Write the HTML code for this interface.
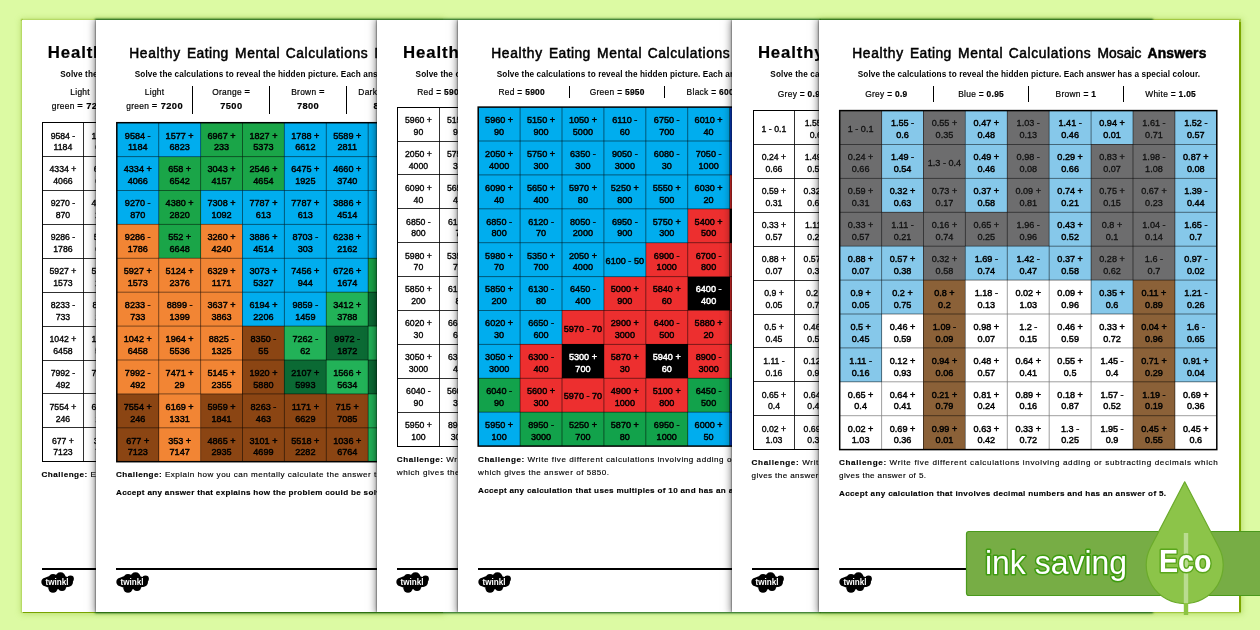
<!DOCTYPE html>
<html lang="en"><head><meta charset="utf-8"><title>Healthy Eating Mental Calculations Mosaic</title>
<style>
html,body{margin:0;padding:0}
body{width:1260px;height:630px;overflow:hidden;position:relative;background:#dcfaa3;font-family:"Liberation Sans",sans-serif;color:#000}
.u1,.u2,.u3{position:absolute;top:19.5px;height:592.5px;background:#fff}
.u1{left:21.5px;width:420px;box-shadow:0 0 1.5px 1.2px #78a300,0 0 6px 1.5px rgba(140,185,40,.4)}
.u3{left:819px;width:420px;box-shadow:.6px 0 1px 1px #7ca600,1.5px 0 6px 1.5px rgba(140,185,40,.45)}
.u2{left:96px;width:1056px;box-shadow:0 0 2px 1px #0d5a16,0 0 5px 1px rgba(110,160,40,.35)}
.clip{position:absolute;left:21.5px;top:19.5px;width:1217.5px;height:592.5px;overflow:hidden}
.pg{position:absolute;top:0;width:420px;height:592.5px;background:#fff;box-shadow:0 0 2px 0 rgba(0,0,0,.8),0 0 8px 1.5px rgba(0,0,0,.5);overflow:hidden}
.ttl{position:absolute;left:0;width:420px;height:20px;line-height:18px;white-space:pre;-webkit-text-stroke:.5px #000}
.ttl span,.ttl b{position:absolute;top:0}
.ttl.wk{font-weight:700;-webkit-text-stroke:.2px #000}
.sub{position:absolute;left:0;top:50px;width:420px;text-align:center;font-size:8.2px;line-height:10px;white-space:nowrap;letter-spacing:.12px;font-weight:700}
.key{position:absolute;font-size:8.4px}
.ke{position:absolute;top:0;text-align:center;white-space:nowrap;letter-spacing:.3px;-webkit-text-stroke:.2px #000}
.k2 .ke{line-height:14.8px;top:-1px}
.k1 .ke{line-height:12px;top:2.5px}
.ka .ke{top:.2px}
.k2 b{font-size:9.3px;letter-spacing:.4px}
.sep{position:absolute;top:0;width:1.1px;height:100%;background:#000}
.grid{position:absolute;background:#fff}
.gl{position:absolute}
.c{position:absolute;width:41.9px;height:33.9px;text-align:center;font-size:9.1px;line-height:12px;font-weight:400;-webkit-text-stroke:.45px #000;white-space:nowrap}
.c span{position:absolute;left:0;width:100%}
.l1{top:6.9px}.l2{top:18.7px}.l0{top:12.2px}
.c.wt{color:#fff;-webkit-text-stroke-color:#fff}
.wk .c{font-size:8.7px;-webkit-text-stroke:.35px #000}
.c.gt{color:#111;-webkit-text-stroke:.3px #111}
.ch{position:absolute;left:20px;width:379px;font-size:8.1px;line-height:10px;white-space:nowrap;letter-spacing:.3px;-webkit-text-stroke:.15px #000}
.ch.j{text-align:justify;text-align-last:justify;white-space:normal;letter-spacing:0}
.ch.b{font-weight:700}
.fl{position:absolute;left:20px;top:548.2px;width:380px;height:1.9px;background:#000}
.tw{position:absolute;left:19.5px;top:552px}
.eco{position:absolute;z-index:50}
</style></head><body>
<div class="u1"></div><div class="u3"></div><div class="u2"></div>
<div class="clip">
<div class="pg" style="left:0.0px;z-index:1">
<div class="ttl wk" style="top:24.8px;font-size:16.75px;"><b style="left:26.3px;letter-spacing:0.87px">Healthy </b><b style="left:98.0px;letter-spacing:0.36px">Eating </b><b style="left:159.0px;letter-spacing:0.79px">Mental </b><b style="left:224.0px;letter-spacing:0.58px">Calculations </b><b style="left:338.0px;letter-spacing:-0.16px">Mosaic</b></div>
<div class="sub">Solve the calculations to reveal the hidden picture. Each answer has a special colour.</div>
<div class="key k2" style="left:20.3px;top:66px;height:28px">
<div class="ke" style="left:0.0px;width:76.7px">Light<br>green <b>= 7200</b></div>
<div class="ke" style="left:76.7px;width:76.7px">Orange <b>=</b><br><b>7500</b></div>
<div class="sep" style="left:76.0px"></div>
<div class="ke" style="left:153.4px;width:76.7px">Brown <b>=</b><br><b>7800</b></div>
<div class="sep" style="left:152.70000000000002px"></div>
<div class="ke" style="left:230.10000000000002px;width:76.7px">Dark green <b>=</b><br><b>8100</b></div>
<div class="sep" style="left:229.40000000000003px"></div>
<div class="ke" style="left:306.8px;width:76.7px">Blue <b>=</b><br><b>8400</b></div>
<div class="sep" style="left:306.1px"></div>
</div>
<div class="grid wk" style="left:20.5px;top:103.2px;width:293.3px;height:339.0px">
<div class="c" style="left:0.0px;top:0.0px;"><span class="l1">9584 - </span><span class="l2">1184</span></div>
<div class="c" style="left:41.9px;top:0.0px;"><span class="l1">1577 + </span><span class="l2">6823</span></div>
<div class="c" style="left:83.8px;top:0.0px;"><span class="l1">6967 + </span><span class="l2">233</span></div>
<div class="c" style="left:125.7px;top:0.0px;"><span class="l1">1827 + </span><span class="l2">5373</span></div>
<div class="c" style="left:167.6px;top:0.0px;"><span class="l1">1788 + </span><span class="l2">6612</span></div>
<div class="c" style="left:209.5px;top:0.0px;"><span class="l1">5589 + </span><span class="l2">2811</span></div>
<div class="c" style="left:251.4px;top:0.0px;"></div>
<div class="c" style="left:0.0px;top:33.9px;"><span class="l1">4334 + </span><span class="l2">4066</span></div>
<div class="c" style="left:41.9px;top:33.9px;"><span class="l1">658 + </span><span class="l2">6542</span></div>
<div class="c" style="left:83.8px;top:33.9px;"><span class="l1">3043 + </span><span class="l2">4157</span></div>
<div class="c" style="left:125.7px;top:33.9px;"><span class="l1">2546 + </span><span class="l2">4654</span></div>
<div class="c" style="left:167.6px;top:33.9px;"><span class="l1">6475 + </span><span class="l2">1925</span></div>
<div class="c" style="left:209.5px;top:33.9px;"><span class="l1">4660 + </span><span class="l2">3740</span></div>
<div class="c" style="left:251.4px;top:33.9px;"></div>
<div class="c" style="left:0.0px;top:67.8px;"><span class="l1">9270 - </span><span class="l2">870</span></div>
<div class="c" style="left:41.9px;top:67.8px;"><span class="l1">4380 + </span><span class="l2">2820</span></div>
<div class="c" style="left:83.8px;top:67.8px;"><span class="l1">7308 + </span><span class="l2">1092</span></div>
<div class="c" style="left:125.7px;top:67.8px;"><span class="l1">7787 + </span><span class="l2">613</span></div>
<div class="c" style="left:167.6px;top:67.8px;"><span class="l1">7787 + </span><span class="l2">613</span></div>
<div class="c" style="left:209.5px;top:67.8px;"><span class="l1">3886 + </span><span class="l2">4514</span></div>
<div class="c" style="left:251.4px;top:67.8px;"></div>
<div class="c" style="left:0.0px;top:101.7px;"><span class="l1">9286 - </span><span class="l2">1786</span></div>
<div class="c" style="left:41.9px;top:101.7px;"><span class="l1">552 + </span><span class="l2">6648</span></div>
<div class="c" style="left:83.8px;top:101.7px;"><span class="l1">3260 + </span><span class="l2">4240</span></div>
<div class="c" style="left:125.7px;top:101.7px;"><span class="l1">3886 + </span><span class="l2">4514</span></div>
<div class="c" style="left:167.6px;top:101.7px;"><span class="l1">8703 - </span><span class="l2">303</span></div>
<div class="c" style="left:209.5px;top:101.7px;"><span class="l1">6238 + </span><span class="l2">2162</span></div>
<div class="c" style="left:251.4px;top:101.7px;"></div>
<div class="c" style="left:0.0px;top:135.6px;"><span class="l1">5927 + </span><span class="l2">1573</span></div>
<div class="c" style="left:41.9px;top:135.6px;"><span class="l1">5124 + </span><span class="l2">2376</span></div>
<div class="c" style="left:83.8px;top:135.6px;"><span class="l1">6329 + </span><span class="l2">1171</span></div>
<div class="c" style="left:125.7px;top:135.6px;"><span class="l1">3073 + </span><span class="l2">5327</span></div>
<div class="c" style="left:167.6px;top:135.6px;"><span class="l1">7456 + </span><span class="l2">944</span></div>
<div class="c" style="left:209.5px;top:135.6px;"><span class="l1">6726 + </span><span class="l2">1674</span></div>
<div class="c" style="left:251.4px;top:135.6px;"></div>
<div class="c" style="left:0.0px;top:169.5px;"><span class="l1">8233 - </span><span class="l2">733</span></div>
<div class="c" style="left:41.9px;top:169.5px;"><span class="l1">8899 - </span><span class="l2">1399</span></div>
<div class="c" style="left:83.8px;top:169.5px;"><span class="l1">3637 + </span><span class="l2">3863</span></div>
<div class="c" style="left:125.7px;top:169.5px;"><span class="l1">6194 + </span><span class="l2">2206</span></div>
<div class="c" style="left:167.6px;top:169.5px;"><span class="l1">9859 - </span><span class="l2">1459</span></div>
<div class="c" style="left:209.5px;top:169.5px;"><span class="l1">3412 + </span><span class="l2">3788</span></div>
<div class="c" style="left:251.4px;top:169.5px;"></div>
<div class="c" style="left:0.0px;top:203.4px;"><span class="l1">1042 + </span><span class="l2">6458</span></div>
<div class="c" style="left:41.9px;top:203.4px;"><span class="l1">1964 + </span><span class="l2">5536</span></div>
<div class="c" style="left:83.8px;top:203.4px;"><span class="l1">8825 - </span><span class="l2">1325</span></div>
<div class="c" style="left:125.7px;top:203.4px;"><span class="l1">8350 - </span><span class="l2">55</span></div>
<div class="c" style="left:167.6px;top:203.4px;"><span class="l1">7262 - </span><span class="l2">62</span></div>
<div class="c" style="left:209.5px;top:203.4px;"><span class="l1">9972 - </span><span class="l2">1872</span></div>
<div class="c" style="left:251.4px;top:203.4px;"></div>
<div class="c" style="left:0.0px;top:237.3px;"><span class="l1">7992 - </span><span class="l2">492</span></div>
<div class="c" style="left:41.9px;top:237.3px;"><span class="l1">7471 + </span><span class="l2">29</span></div>
<div class="c" style="left:83.8px;top:237.3px;"><span class="l1">5145 + </span><span class="l2">2355</span></div>
<div class="c" style="left:125.7px;top:237.3px;"><span class="l1">1920 + </span><span class="l2">5880</span></div>
<div class="c" style="left:167.6px;top:237.3px;"><span class="l1">2107 + </span><span class="l2">5993</span></div>
<div class="c" style="left:209.5px;top:237.3px;"><span class="l1">1566 + </span><span class="l2">5634</span></div>
<div class="c" style="left:251.4px;top:237.3px;"></div>
<div class="c" style="left:0.0px;top:271.2px;"><span class="l1">7554 + </span><span class="l2">246</span></div>
<div class="c" style="left:41.9px;top:271.2px;"><span class="l1">6169 + </span><span class="l2">1331</span></div>
<div class="c" style="left:83.8px;top:271.2px;"><span class="l1">5959 + </span><span class="l2">1841</span></div>
<div class="c" style="left:125.7px;top:271.2px;"><span class="l1">8263 - </span><span class="l2">463</span></div>
<div class="c" style="left:167.6px;top:271.2px;"><span class="l1">1171 + </span><span class="l2">6629</span></div>
<div class="c" style="left:209.5px;top:271.2px;"><span class="l1">715 + </span><span class="l2">7085</span></div>
<div class="c" style="left:251.4px;top:271.2px;"></div>
<div class="c" style="left:0.0px;top:305.1px;"><span class="l1">677 + </span><span class="l2">7123</span></div>
<div class="c" style="left:41.9px;top:305.1px;"><span class="l1">353 + </span><span class="l2">7147</span></div>
<div class="c" style="left:83.8px;top:305.1px;"><span class="l1">4865 + </span><span class="l2">2935</span></div>
<div class="c" style="left:125.7px;top:305.1px;"><span class="l1">3101 + </span><span class="l2">4699</span></div>
<div class="c" style="left:167.6px;top:305.1px;"><span class="l1">5518 + </span><span class="l2">2282</span></div>
<div class="c" style="left:209.5px;top:305.1px;"><span class="l1">1036 + </span><span class="l2">6764</span></div>
<div class="c" style="left:251.4px;top:305.1px;"></div>
<svg class="gl" shape-rendering="crispEdges" style="left:-2.00px;top:-2.70px" width="300" height="345" viewBox="-2.00 -2.70 300 345"><path d="M41.9 0.0V33.9M41.9 33.9V67.8M41.9 67.8V101.7M41.9 101.7V135.6M41.9 135.6V169.5M41.9 169.5V203.4M41.9 203.4V237.3M41.9 237.3V271.2M41.9 271.2V305.1M41.9 305.1V339.0M83.8 0.0V33.9M83.8 33.9V67.8M83.8 67.8V101.7M83.8 101.7V135.6M83.8 135.6V169.5M83.8 169.5V203.4M83.8 203.4V237.3M83.8 237.3V271.2M83.8 271.2V305.1M83.8 305.1V339.0M125.7 0.0V33.9M125.7 33.9V67.8M125.7 67.8V101.7M125.7 101.7V135.6M125.7 135.6V169.5M125.7 169.5V203.4M125.7 203.4V237.3M125.7 237.3V271.2M125.7 271.2V305.1M125.7 305.1V339.0M167.6 0.0V33.9M167.6 33.9V67.8M167.6 67.8V101.7M167.6 101.7V135.6M167.6 135.6V169.5M167.6 169.5V203.4M167.6 203.4V237.3M167.6 237.3V271.2M167.6 271.2V305.1M167.6 305.1V339.0M209.5 0.0V33.9M209.5 33.9V67.8M209.5 67.8V101.7M209.5 101.7V135.6M209.5 135.6V169.5M209.5 169.5V203.4M209.5 203.4V237.3M209.5 237.3V271.2M209.5 271.2V305.1M209.5 305.1V339.0M251.4 0.0V33.9M251.4 33.9V67.8M251.4 67.8V101.7M251.4 101.7V135.6M251.4 135.6V169.5M251.4 169.5V203.4M251.4 203.4V237.3M251.4 237.3V271.2M251.4 271.2V305.1M251.4 305.1V339.0M0.0 33.9H41.9M41.9 33.9H83.8M83.8 33.9H125.7M125.7 33.9H167.6M167.6 33.9H209.5M209.5 33.9H251.4M251.4 33.9H293.3M0.0 67.8H41.9M41.9 67.8H83.8M83.8 67.8H125.7M125.7 67.8H167.6M167.6 67.8H209.5M209.5 67.8H251.4M251.4 67.8H293.3M0.0 101.7H41.9M41.9 101.7H83.8M83.8 101.7H125.7M125.7 101.7H167.6M167.6 101.7H209.5M209.5 101.7H251.4M251.4 101.7H293.3M0.0 135.6H41.9M41.9 135.6H83.8M83.8 135.6H125.7M125.7 135.6H167.6M167.6 135.6H209.5M209.5 135.6H251.4M251.4 135.6H293.3M0.0 169.5H41.9M41.9 169.5H83.8M83.8 169.5H125.7M125.7 169.5H167.6M167.6 169.5H209.5M209.5 169.5H251.4M251.4 169.5H293.3M0.0 203.4H41.9M41.9 203.4H83.8M83.8 203.4H125.7M125.7 203.4H167.6M167.6 203.4H209.5M209.5 203.4H251.4M251.4 203.4H293.3M0.0 237.3H41.9M41.9 237.3H83.8M83.8 237.3H125.7M125.7 237.3H167.6M167.6 237.3H209.5M209.5 237.3H251.4M251.4 237.3H293.3M0.0 271.2H41.9M41.9 271.2H83.8M83.8 271.2H125.7M125.7 271.2H167.6M167.6 271.2H209.5M209.5 271.2H251.4M251.4 271.2H293.3M0.0 305.1H41.9M41.9 305.1H83.8M83.8 305.1H125.7M125.7 305.1H167.6M167.6 305.1H209.5M209.5 305.1H251.4M251.4 305.1H293.3" stroke="#000" stroke-opacity="0.9" stroke-width="0.9" fill="none"/><rect x="0" y="0" width="293.3" height="339.0" fill="none" stroke="#000" stroke-width="1"/></svg>
</div>
<div class="ch" style="top:450.5px;letter-spacing:0.482px"><b>Challenge:</b> Explain how you can mentally calculate the answer to 4999 + 2501.</div>
<div class="fl"></div>
<svg class="tw" viewBox="0 0 34 22" width="34" height="22"><g fill="#000"><ellipse cx="16" cy="10" rx="14.5" ry="7.2"/><circle cx="4.5" cy="10" r="4.2"/><circle cx="19.5" cy="5.2" r="5"/><circle cx="12" cy="6" r="4"/><circle cx="29.5" cy="6.8" r="3.4"/><circle cx="27" cy="10" r="5"/><circle cx="12" cy="16.2" r="4.6"/><circle cx="21" cy="15" r="4"/></g><text x="16" y="13" font-family="Liberation Sans, sans-serif" font-weight="700" font-size="8.2" fill="#fff" text-anchor="middle" textLength="23" lengthAdjust="spacingAndGlyphs">twinkl</text></svg>
</div>
<div class="pg" style="left:74.5px;z-index:2">
<div class="ttl" style="top:25.7px;font-size:13.8px;"><span style="left:33.2px;letter-spacing:0.68px">Healthy </span><span style="left:90.9px;letter-spacing:0.45px">Eating </span><span style="left:139.1px;letter-spacing:0.62px">Mental </span><span style="left:189.7px;letter-spacing:0.63px">Calculations </span><span style="left:278.4px;letter-spacing:0.06px">Mosaic </span><b style="left:328.5px;letter-spacing:0.23px">Answers</b></div>
<div class="sub">Solve the calculations to reveal the hidden picture. Each answer has a special colour.</div>
<div class="key k2" style="left:20.3px;top:66px;height:28px">
<div class="ke" style="left:0.0px;width:76.7px">Light<br>green <b>= 7200</b></div>
<div class="ke" style="left:76.7px;width:76.7px">Orange <b>=</b><br><b>7500</b></div>
<div class="sep" style="left:76.0px"></div>
<div class="ke" style="left:153.4px;width:76.7px">Brown <b>=</b><br><b>7800</b></div>
<div class="sep" style="left:152.70000000000002px"></div>
<div class="ke" style="left:230.10000000000002px;width:76.7px">Dark green <b>=</b><br><b>8100</b></div>
<div class="sep" style="left:229.40000000000003px"></div>
<div class="ke" style="left:306.8px;width:76.7px">Blue <b>=</b><br><b>8400</b></div>
<div class="sep" style="left:306.1px"></div>
</div>
<div class="grid" style="left:20.8px;top:103.2px;width:293.3px;height:339.0px">
<div class="c" style="left:0.0px;top:0.0px;background:#00adee;"><span class="l1">9584 - </span><span class="l2">1184</span></div>
<div class="c" style="left:41.9px;top:0.0px;background:#00adee;"><span class="l1">1577 + </span><span class="l2">6823</span></div>
<div class="c" style="left:83.8px;top:0.0px;background:#1aa548;"><span class="l1">6967 + </span><span class="l2">233</span></div>
<div class="c" style="left:125.7px;top:0.0px;background:#1aa548;"><span class="l1">1827 + </span><span class="l2">5373</span></div>
<div class="c" style="left:167.6px;top:0.0px;background:#00adee;"><span class="l1">1788 + </span><span class="l2">6612</span></div>
<div class="c" style="left:209.5px;top:0.0px;background:#00adee;"><span class="l1">5589 + </span><span class="l2">2811</span></div>
<div class="c" style="left:251.4px;top:0.0px;background:#00adee;"></div>
<div class="c" style="left:0.0px;top:33.9px;background:#00adee;"><span class="l1">4334 + </span><span class="l2">4066</span></div>
<div class="c" style="left:41.9px;top:33.9px;background:#1aa548;"><span class="l1">658 + </span><span class="l2">6542</span></div>
<div class="c" style="left:83.8px;top:33.9px;background:#1aa548;"><span class="l1">3043 + </span><span class="l2">4157</span></div>
<div class="c" style="left:125.7px;top:33.9px;background:#1aa548;"><span class="l1">2546 + </span><span class="l2">4654</span></div>
<div class="c" style="left:167.6px;top:33.9px;background:#00adee;"><span class="l1">6475 + </span><span class="l2">1925</span></div>
<div class="c" style="left:209.5px;top:33.9px;background:#00adee;"><span class="l1">4660 + </span><span class="l2">3740</span></div>
<div class="c" style="left:251.4px;top:33.9px;background:#00adee;"></div>
<div class="c" style="left:0.0px;top:67.8px;background:#00adee;"><span class="l1">9270 - </span><span class="l2">870</span></div>
<div class="c" style="left:41.9px;top:67.8px;background:#1aa548;"><span class="l1">4380 + </span><span class="l2">2820</span></div>
<div class="c" style="left:83.8px;top:67.8px;background:#00adee;"><span class="l1">7308 + </span><span class="l2">1092</span></div>
<div class="c" style="left:125.7px;top:67.8px;background:#00adee;"><span class="l1">7787 + </span><span class="l2">613</span></div>
<div class="c" style="left:167.6px;top:67.8px;background:#00adee;"><span class="l1">7787 + </span><span class="l2">613</span></div>
<div class="c" style="left:209.5px;top:67.8px;background:#00adee;"><span class="l1">3886 + </span><span class="l2">4514</span></div>
<div class="c" style="left:251.4px;top:67.8px;background:#00adee;"></div>
<div class="c" style="left:0.0px;top:101.7px;background:#f28534;"><span class="l1">9286 - </span><span class="l2">1786</span></div>
<div class="c" style="left:41.9px;top:101.7px;background:#1aa548;"><span class="l1">552 + </span><span class="l2">6648</span></div>
<div class="c" style="left:83.8px;top:101.7px;background:#f28534;"><span class="l1">3260 + </span><span class="l2">4240</span></div>
<div class="c" style="left:125.7px;top:101.7px;background:#00adee;"><span class="l1">3886 + </span><span class="l2">4514</span></div>
<div class="c" style="left:167.6px;top:101.7px;background:#00adee;"><span class="l1">8703 - </span><span class="l2">303</span></div>
<div class="c" style="left:209.5px;top:101.7px;background:#00adee;"><span class="l1">6238 + </span><span class="l2">2162</span></div>
<div class="c" style="left:251.4px;top:101.7px;background:#00adee;"></div>
<div class="c" style="left:0.0px;top:135.6px;background:#f28534;"><span class="l1">5927 + </span><span class="l2">1573</span></div>
<div class="c" style="left:41.9px;top:135.6px;background:#f28534;"><span class="l1">5124 + </span><span class="l2">2376</span></div>
<div class="c" style="left:83.8px;top:135.6px;background:#f28534;"><span class="l1">6329 + </span><span class="l2">1171</span></div>
<div class="c" style="left:125.7px;top:135.6px;background:#00adee;"><span class="l1">3073 + </span><span class="l2">5327</span></div>
<div class="c" style="left:167.6px;top:135.6px;background:#00adee;"><span class="l1">7456 + </span><span class="l2">944</span></div>
<div class="c" style="left:209.5px;top:135.6px;background:#00adee;"><span class="l1">6726 + </span><span class="l2">1674</span></div>
<div class="c" style="left:251.4px;top:135.6px;background:#1aa548;"></div>
<div class="c" style="left:0.0px;top:169.5px;background:#f28534;"><span class="l1">8233 - </span><span class="l2">733</span></div>
<div class="c" style="left:41.9px;top:169.5px;background:#f28534;"><span class="l1">8899 - </span><span class="l2">1399</span></div>
<div class="c" style="left:83.8px;top:169.5px;background:#f28534;"><span class="l1">3637 + </span><span class="l2">3863</span></div>
<div class="c" style="left:125.7px;top:169.5px;background:#00adee;"><span class="l1">6194 + </span><span class="l2">2206</span></div>
<div class="c" style="left:167.6px;top:169.5px;background:#00adee;"><span class="l1">9859 - </span><span class="l2">1459</span></div>
<div class="c" style="left:209.5px;top:169.5px;background:#22b258;"><span class="l1">3412 + </span><span class="l2">3788</span></div>
<div class="c" style="left:251.4px;top:169.5px;background:#0b6a34;"></div>
<div class="c" style="left:0.0px;top:203.4px;background:#f28534;"><span class="l1">1042 + </span><span class="l2">6458</span></div>
<div class="c" style="left:41.9px;top:203.4px;background:#f28534;"><span class="l1">1964 + </span><span class="l2">5536</span></div>
<div class="c" style="left:83.8px;top:203.4px;background:#f28534;"><span class="l1">8825 - </span><span class="l2">1325</span></div>
<div class="c" style="left:125.7px;top:203.4px;background:#8b4513;"><span class="l1">8350 - </span><span class="l2">55</span></div>
<div class="c" style="left:167.6px;top:203.4px;background:#22b258;"><span class="l1">7262 - </span><span class="l2">62</span></div>
<div class="c" style="left:209.5px;top:203.4px;background:#0b6a34;"><span class="l1">9972 - </span><span class="l2">1872</span></div>
<div class="c" style="left:251.4px;top:203.4px;background:#22b258;"></div>
<div class="c" style="left:0.0px;top:237.3px;background:#f28534;"><span class="l1">7992 - </span><span class="l2">492</span></div>
<div class="c" style="left:41.9px;top:237.3px;background:#f28534;"><span class="l1">7471 + </span><span class="l2">29</span></div>
<div class="c" style="left:83.8px;top:237.3px;background:#f28534;"><span class="l1">5145 + </span><span class="l2">2355</span></div>
<div class="c" style="left:125.7px;top:237.3px;background:#8b4513;"><span class="l1">1920 + </span><span class="l2">5880</span></div>
<div class="c" style="left:167.6px;top:237.3px;background:#0b6a34;"><span class="l1">2107 + </span><span class="l2">5993</span></div>
<div class="c" style="left:209.5px;top:237.3px;background:#22b258;"><span class="l1">1566 + </span><span class="l2">5634</span></div>
<div class="c" style="left:251.4px;top:237.3px;background:#0b6a34;"></div>
<div class="c" style="left:0.0px;top:271.2px;background:#8b4513;"><span class="l1">7554 + </span><span class="l2">246</span></div>
<div class="c" style="left:41.9px;top:271.2px;background:#f28534;"><span class="l1">6169 + </span><span class="l2">1331</span></div>
<div class="c" style="left:83.8px;top:271.2px;background:#8b4513;"><span class="l1">5959 + </span><span class="l2">1841</span></div>
<div class="c" style="left:125.7px;top:271.2px;background:#8b4513;"><span class="l1">8263 - </span><span class="l2">463</span></div>
<div class="c" style="left:167.6px;top:271.2px;background:#8b4513;"><span class="l1">1171 + </span><span class="l2">6629</span></div>
<div class="c" style="left:209.5px;top:271.2px;background:#8b4513;"><span class="l1">715 + </span><span class="l2">7085</span></div>
<div class="c" style="left:251.4px;top:271.2px;background:#22b258;"></div>
<div class="c" style="left:0.0px;top:305.1px;background:#8b4513;"><span class="l1">677 + </span><span class="l2">7123</span></div>
<div class="c" style="left:41.9px;top:305.1px;background:#f28534;"><span class="l1">353 + </span><span class="l2">7147</span></div>
<div class="c" style="left:83.8px;top:305.1px;background:#8b4513;"><span class="l1">4865 + </span><span class="l2">2935</span></div>
<div class="c" style="left:125.7px;top:305.1px;background:#8b4513;"><span class="l1">3101 + </span><span class="l2">4699</span></div>
<div class="c" style="left:167.6px;top:305.1px;background:#8b4513;"><span class="l1">5518 + </span><span class="l2">2282</span></div>
<div class="c" style="left:209.5px;top:305.1px;background:#8b4513;"><span class="l1">1036 + </span><span class="l2">6764</span></div>
<div class="c" style="left:251.4px;top:305.1px;background:#22b258;"></div>
<svg class="gl" style="left:-2.80px;top:-2.70px" width="300" height="345" viewBox="-2.80 -2.70 300 345"><path d="M41.9 0.0V33.9M41.9 33.9V67.8M41.9 67.8V101.7M41.9 101.7V135.6M41.9 135.6V169.5M41.9 169.5V203.4M41.9 203.4V237.3M41.9 237.3V271.2M41.9 271.2V305.1M41.9 305.1V339.0M83.8 0.0V33.9M83.8 33.9V67.8M83.8 67.8V101.7M83.8 101.7V135.6M83.8 135.6V169.5M83.8 169.5V203.4M83.8 203.4V237.3M83.8 237.3V271.2M83.8 271.2V305.1M83.8 305.1V339.0M125.7 0.0V33.9M125.7 33.9V67.8M125.7 67.8V101.7M125.7 101.7V135.6M125.7 135.6V169.5M125.7 169.5V203.4M125.7 203.4V237.3M125.7 237.3V271.2M125.7 271.2V305.1M125.7 305.1V339.0M167.6 0.0V33.9M167.6 33.9V67.8M167.6 67.8V101.7M167.6 101.7V135.6M167.6 135.6V169.5M167.6 169.5V203.4M167.6 203.4V237.3M167.6 237.3V271.2M167.6 271.2V305.1M167.6 305.1V339.0M209.5 0.0V33.9M209.5 33.9V67.8M209.5 67.8V101.7M209.5 101.7V135.6M209.5 135.6V169.5M209.5 169.5V203.4M209.5 203.4V237.3M209.5 237.3V271.2M209.5 271.2V305.1M209.5 305.1V339.0M251.4 0.0V33.9M251.4 33.9V67.8M251.4 67.8V101.7M251.4 101.7V135.6M251.4 135.6V169.5M251.4 169.5V203.4M251.4 203.4V237.3M251.4 237.3V271.2M251.4 271.2V305.1M251.4 305.1V339.0M0.0 33.9H41.9M41.9 33.9H83.8M83.8 33.9H125.7M125.7 33.9H167.6M167.6 33.9H209.5M209.5 33.9H251.4M251.4 33.9H293.3M0.0 67.8H41.9M41.9 67.8H83.8M83.8 67.8H125.7M125.7 67.8H167.6M167.6 67.8H209.5M209.5 67.8H251.4M251.4 67.8H293.3M0.0 101.7H41.9M41.9 101.7H83.8M83.8 101.7H125.7M125.7 101.7H167.6M167.6 101.7H209.5M209.5 101.7H251.4M251.4 101.7H293.3M0.0 135.6H41.9M41.9 135.6H83.8M83.8 135.6H125.7M125.7 135.6H167.6M167.6 135.6H209.5M209.5 135.6H251.4M251.4 135.6H293.3M0.0 169.5H41.9M41.9 169.5H83.8M83.8 169.5H125.7M125.7 169.5H167.6M167.6 169.5H209.5M209.5 169.5H251.4M251.4 169.5H293.3M0.0 203.4H41.9M41.9 203.4H83.8M83.8 203.4H125.7M125.7 203.4H167.6M167.6 203.4H209.5M209.5 203.4H251.4M251.4 203.4H293.3M0.0 237.3H41.9M41.9 237.3H83.8M83.8 237.3H125.7M125.7 237.3H167.6M167.6 237.3H209.5M209.5 237.3H251.4M251.4 237.3H293.3M0.0 271.2H41.9M41.9 271.2H83.8M83.8 271.2H125.7M125.7 271.2H167.6M167.6 271.2H209.5M209.5 271.2H251.4M251.4 271.2H293.3M0.0 305.1H41.9M41.9 305.1H83.8M83.8 305.1H125.7M125.7 305.1H167.6M167.6 305.1H209.5M209.5 305.1H251.4M251.4 305.1H293.3" stroke="#000" stroke-opacity="0.7" stroke-width="0.7" fill="none"/><rect x="0" y="0" width="293.3" height="339.0" fill="none" stroke="#000" stroke-width="1.5"/></svg>
</div>
<div class="ch" style="top:450.5px;letter-spacing:0.482px"><b>Challenge:</b> Explain how you can mentally calculate the answer to 4999 + 2501.</div>
<div class="ch b" style="top:468.9px;letter-spacing:0.312px">Accept any answer that explains how the problem could be solved mentally.</div>
<div class="fl"></div>
<svg class="tw" viewBox="0 0 34 22" width="34" height="22"><g fill="#000"><ellipse cx="16" cy="10" rx="14.5" ry="7.2"/><circle cx="4.5" cy="10" r="4.2"/><circle cx="19.5" cy="5.2" r="5"/><circle cx="12" cy="6" r="4"/><circle cx="29.5" cy="6.8" r="3.4"/><circle cx="27" cy="10" r="5"/><circle cx="12" cy="16.2" r="4.6"/><circle cx="21" cy="15" r="4"/></g><text x="16" y="13" font-family="Liberation Sans, sans-serif" font-weight="700" font-size="8.2" fill="#fff" text-anchor="middle" textLength="23" lengthAdjust="spacingAndGlyphs">twinkl</text></svg>
</div>
<div class="pg" style="left:355.3px;z-index:3">
<div class="ttl wk" style="top:24.8px;font-size:16.75px;"><b style="left:26.3px;letter-spacing:0.87px">Healthy </b><b style="left:98.0px;letter-spacing:0.36px">Eating </b><b style="left:159.0px;letter-spacing:0.79px">Mental </b><b style="left:224.0px;letter-spacing:0.58px">Calculations </b><b style="left:338.0px;letter-spacing:-0.16px">Mosaic</b></div>
<div class="sub">Solve the calculations to reveal the hidden picture. Each answer has a special colour.</div>
<div class="key k1 ka" style="left:16px;top:66px;height:12px">
<div class="ke" style="left:0.0px;width:95.5px">Red <b>= 5900</b></div>
<div class="ke" style="left:95.5px;width:95.5px">Green <b>= 5950</b></div>
<div class="sep" style="left:94.8px"></div>
<div class="ke" style="left:191.0px;width:95.5px">Black <b>= 6000</b></div>
<div class="sep" style="left:190.3px"></div>
<div class="ke" style="left:286.5px;width:95.5px">Blue <b>= 6050</b></div>
<div class="sep" style="left:285.8px"></div>
</div>
<div class="grid wk" style="left:20.7px;top:87.6px;width:293.3px;height:339.0px">
<div class="c" style="left:0.0px;top:0.0px;"><span class="l1">5960 + </span><span class="l2">90</span></div>
<div class="c" style="left:41.9px;top:0.0px;"><span class="l1">5150 + </span><span class="l2">900</span></div>
<div class="c" style="left:83.8px;top:0.0px;"><span class="l1">1050 + </span><span class="l2">5000</span></div>
<div class="c" style="left:125.7px;top:0.0px;"><span class="l1">6110 - </span><span class="l2">60</span></div>
<div class="c" style="left:167.6px;top:0.0px;"><span class="l1">6750 - </span><span class="l2">700</span></div>
<div class="c" style="left:209.5px;top:0.0px;"><span class="l1">6010 + </span><span class="l2">40</span></div>
<div class="c" style="left:251.4px;top:0.0px;"></div>
<div class="c" style="left:0.0px;top:33.9px;"><span class="l1">2050 + </span><span class="l2">4000</span></div>
<div class="c" style="left:41.9px;top:33.9px;"><span class="l1">5750 + </span><span class="l2">300</span></div>
<div class="c" style="left:83.8px;top:33.9px;"><span class="l1">6350 - </span><span class="l2">300</span></div>
<div class="c" style="left:125.7px;top:33.9px;"><span class="l1">9050 - </span><span class="l2">3000</span></div>
<div class="c" style="left:167.6px;top:33.9px;"><span class="l1">6080 - </span><span class="l2">30</span></div>
<div class="c" style="left:209.5px;top:33.9px;"><span class="l1">7050 - </span><span class="l2">1000</span></div>
<div class="c" style="left:251.4px;top:33.9px;"></div>
<div class="c" style="left:0.0px;top:67.8px;"><span class="l1">6090 + </span><span class="l2">40</span></div>
<div class="c" style="left:41.9px;top:67.8px;"><span class="l1">5650 + </span><span class="l2">400</span></div>
<div class="c" style="left:83.8px;top:67.8px;"><span class="l1">5970 + </span><span class="l2">80</span></div>
<div class="c" style="left:125.7px;top:67.8px;"><span class="l1">5250 + </span><span class="l2">800</span></div>
<div class="c" style="left:167.6px;top:67.8px;"><span class="l1">5550 + </span><span class="l2">500</span></div>
<div class="c" style="left:209.5px;top:67.8px;"><span class="l1">6030 + </span><span class="l2">20</span></div>
<div class="c" style="left:251.4px;top:67.8px;"></div>
<div class="c" style="left:0.0px;top:101.7px;"><span class="l1">6850 - </span><span class="l2">800</span></div>
<div class="c" style="left:41.9px;top:101.7px;"><span class="l1">6120 - </span><span class="l2">70</span></div>
<div class="c" style="left:83.8px;top:101.7px;"><span class="l1">8050 - </span><span class="l2">2000</span></div>
<div class="c" style="left:125.7px;top:101.7px;"><span class="l1">6950 - </span><span class="l2">900</span></div>
<div class="c" style="left:167.6px;top:101.7px;"><span class="l1">5750 + </span><span class="l2">300</span></div>
<div class="c" style="left:209.5px;top:101.7px;"><span class="l1">5400 + </span><span class="l2">500</span></div>
<div class="c" style="left:251.4px;top:101.7px;"></div>
<div class="c" style="left:0.0px;top:135.6px;"><span class="l1">5980 + </span><span class="l2">70</span></div>
<div class="c" style="left:41.9px;top:135.6px;"><span class="l1">5350 + </span><span class="l2">700</span></div>
<div class="c" style="left:83.8px;top:135.6px;"><span class="l1">2050 + </span><span class="l2">4000</span></div>
<div class="c" style="left:125.7px;top:135.6px;"><span class="l0">6100 - 50</span></div>
<div class="c" style="left:167.6px;top:135.6px;"><span class="l1">6900 - </span><span class="l2">1000</span></div>
<div class="c" style="left:209.5px;top:135.6px;"><span class="l1">6700 - </span><span class="l2">800</span></div>
<div class="c" style="left:251.4px;top:135.6px;"></div>
<div class="c" style="left:0.0px;top:169.5px;"><span class="l1">5850 + </span><span class="l2">200</span></div>
<div class="c" style="left:41.9px;top:169.5px;"><span class="l1">6130 - </span><span class="l2">80</span></div>
<div class="c" style="left:83.8px;top:169.5px;"><span class="l1">6450 - </span><span class="l2">400</span></div>
<div class="c" style="left:125.7px;top:169.5px;"><span class="l1">5000 + </span><span class="l2">900</span></div>
<div class="c" style="left:167.6px;top:169.5px;"><span class="l1">5840 + </span><span class="l2">60</span></div>
<div class="c" style="left:209.5px;top:169.5px;"><span class="l1">6400 - </span><span class="l2">400</span></div>
<div class="c" style="left:251.4px;top:169.5px;"></div>
<div class="c" style="left:0.0px;top:203.4px;"><span class="l1">6020 + </span><span class="l2">30</span></div>
<div class="c" style="left:41.9px;top:203.4px;"><span class="l1">6650 - </span><span class="l2">600</span></div>
<div class="c" style="left:83.8px;top:203.4px;"><span class="l0">5970 - 70</span></div>
<div class="c" style="left:125.7px;top:203.4px;"><span class="l1">2900 + </span><span class="l2">3000</span></div>
<div class="c" style="left:167.6px;top:203.4px;"><span class="l1">6400 - </span><span class="l2">500</span></div>
<div class="c" style="left:209.5px;top:203.4px;"><span class="l1">5880 + </span><span class="l2">20</span></div>
<div class="c" style="left:251.4px;top:203.4px;"></div>
<div class="c" style="left:0.0px;top:237.3px;"><span class="l1">3050 + </span><span class="l2">3000</span></div>
<div class="c" style="left:41.9px;top:237.3px;"><span class="l1">6300 - </span><span class="l2">400</span></div>
<div class="c" style="left:83.8px;top:237.3px;"><span class="l1">5300 + </span><span class="l2">700</span></div>
<div class="c" style="left:125.7px;top:237.3px;"><span class="l1">5870 + </span><span class="l2">30</span></div>
<div class="c" style="left:167.6px;top:237.3px;"><span class="l1">5940 + </span><span class="l2">60</span></div>
<div class="c" style="left:209.5px;top:237.3px;"><span class="l1">8900 - </span><span class="l2">3000</span></div>
<div class="c" style="left:251.4px;top:237.3px;"></div>
<div class="c" style="left:0.0px;top:271.2px;"><span class="l1">6040 - </span><span class="l2">90</span></div>
<div class="c" style="left:41.9px;top:271.2px;"><span class="l1">5600 + </span><span class="l2">300</span></div>
<div class="c" style="left:83.8px;top:271.2px;"><span class="l0">5970 - 70</span></div>
<div class="c" style="left:125.7px;top:271.2px;"><span class="l1">4900 + </span><span class="l2">1000</span></div>
<div class="c" style="left:167.6px;top:271.2px;"><span class="l1">5100 + </span><span class="l2">800</span></div>
<div class="c" style="left:209.5px;top:271.2px;"><span class="l1">6450 - </span><span class="l2">500</span></div>
<div class="c" style="left:251.4px;top:271.2px;"></div>
<div class="c" style="left:0.0px;top:305.1px;"><span class="l1">5950 + </span><span class="l2">100</span></div>
<div class="c" style="left:41.9px;top:305.1px;"><span class="l1">8950 - </span><span class="l2">3000</span></div>
<div class="c" style="left:83.8px;top:305.1px;"><span class="l1">5250 + </span><span class="l2">700</span></div>
<div class="c" style="left:125.7px;top:305.1px;"><span class="l1">5870 + </span><span class="l2">80</span></div>
<div class="c" style="left:167.6px;top:305.1px;"><span class="l1">6950 - </span><span class="l2">1000</span></div>
<div class="c" style="left:209.5px;top:305.1px;"><span class="l1">6000 + </span><span class="l2">50</span></div>
<div class="c" style="left:251.4px;top:305.1px;"></div>
<svg class="gl" shape-rendering="crispEdges" style="left:-2.50px;top:-2.10px" width="300" height="345" viewBox="-2.50 -2.10 300 345"><path d="M41.9 0.0V33.9M41.9 33.9V67.8M41.9 67.8V101.7M41.9 101.7V135.6M41.9 135.6V169.5M41.9 169.5V203.4M41.9 203.4V237.3M41.9 237.3V271.2M41.9 271.2V305.1M41.9 305.1V339.0M83.8 0.0V33.9M83.8 33.9V67.8M83.8 67.8V101.7M83.8 101.7V135.6M83.8 135.6V169.5M83.8 169.5V203.4M83.8 203.4V237.3M83.8 237.3V271.2M83.8 271.2V305.1M83.8 305.1V339.0M125.7 0.0V33.9M125.7 33.9V67.8M125.7 67.8V101.7M125.7 101.7V135.6M125.7 135.6V169.5M125.7 169.5V203.4M125.7 203.4V237.3M125.7 237.3V271.2M125.7 271.2V305.1M125.7 305.1V339.0M167.6 0.0V33.9M167.6 33.9V67.8M167.6 67.8V101.7M167.6 101.7V135.6M167.6 135.6V169.5M167.6 169.5V203.4M167.6 203.4V237.3M167.6 237.3V271.2M167.6 271.2V305.1M167.6 305.1V339.0M209.5 0.0V33.9M209.5 33.9V67.8M209.5 67.8V101.7M209.5 101.7V135.6M209.5 135.6V169.5M209.5 169.5V203.4M209.5 203.4V237.3M209.5 237.3V271.2M209.5 271.2V305.1M209.5 305.1V339.0M251.4 0.0V33.9M251.4 33.9V67.8M251.4 67.8V101.7M251.4 101.7V135.6M251.4 135.6V169.5M251.4 169.5V203.4M251.4 203.4V237.3M251.4 237.3V271.2M251.4 271.2V305.1M251.4 305.1V339.0M0.0 33.9H41.9M41.9 33.9H83.8M83.8 33.9H125.7M125.7 33.9H167.6M167.6 33.9H209.5M209.5 33.9H251.4M251.4 33.9H293.3M0.0 67.8H41.9M41.9 67.8H83.8M83.8 67.8H125.7M125.7 67.8H167.6M167.6 67.8H209.5M209.5 67.8H251.4M251.4 67.8H293.3M0.0 101.7H41.9M41.9 101.7H83.8M83.8 101.7H125.7M125.7 101.7H167.6M167.6 101.7H209.5M209.5 101.7H251.4M251.4 101.7H293.3M0.0 135.6H41.9M41.9 135.6H83.8M83.8 135.6H125.7M125.7 135.6H167.6M167.6 135.6H209.5M209.5 135.6H251.4M251.4 135.6H293.3M0.0 169.5H41.9M41.9 169.5H83.8M83.8 169.5H125.7M125.7 169.5H167.6M167.6 169.5H209.5M209.5 169.5H251.4M251.4 169.5H293.3M0.0 203.4H41.9M41.9 203.4H83.8M83.8 203.4H125.7M125.7 203.4H167.6M167.6 203.4H209.5M209.5 203.4H251.4M251.4 203.4H293.3M0.0 237.3H41.9M41.9 237.3H83.8M83.8 237.3H125.7M125.7 237.3H167.6M167.6 237.3H209.5M209.5 237.3H251.4M251.4 237.3H293.3M0.0 271.2H41.9M41.9 271.2H83.8M83.8 271.2H125.7M125.7 271.2H167.6M167.6 271.2H209.5M209.5 271.2H251.4M251.4 271.2H293.3M0.0 305.1H41.9M41.9 305.1H83.8M83.8 305.1H125.7M125.7 305.1H167.6M167.6 305.1H209.5M209.5 305.1H251.4M251.4 305.1H293.3" stroke="#000" stroke-opacity="0.9" stroke-width="0.9" fill="none"/><rect x="0" y="0" width="293.3" height="339.0" fill="none" stroke="#000" stroke-width="1"/></svg>
</div>
<div class="ch" style="top:435.3px;letter-spacing:0.537px"><b>Challenge:</b> Write five different calculations involving adding or subtracting multiples of 10</div>
<div class="ch" style="top:448.1px;letter-spacing:0.531px">which gives the answer of 5850.</div>
<div class="fl"></div>
<svg class="tw" viewBox="0 0 34 22" width="34" height="22"><g fill="#000"><ellipse cx="16" cy="10" rx="14.5" ry="7.2"/><circle cx="4.5" cy="10" r="4.2"/><circle cx="19.5" cy="5.2" r="5"/><circle cx="12" cy="6" r="4"/><circle cx="29.5" cy="6.8" r="3.4"/><circle cx="27" cy="10" r="5"/><circle cx="12" cy="16.2" r="4.6"/><circle cx="21" cy="15" r="4"/></g><text x="16" y="13" font-family="Liberation Sans, sans-serif" font-weight="700" font-size="8.2" fill="#fff" text-anchor="middle" textLength="23" lengthAdjust="spacingAndGlyphs">twinkl</text></svg>
</div>
<div class="pg" style="left:436.5px;z-index:4">
<div class="ttl" style="top:25.7px;font-size:13.8px;"><span style="left:33.2px;letter-spacing:0.68px">Healthy </span><span style="left:90.9px;letter-spacing:0.45px">Eating </span><span style="left:139.1px;letter-spacing:0.62px">Mental </span><span style="left:189.7px;letter-spacing:0.63px">Calculations </span><span style="left:278.4px;letter-spacing:0.06px">Mosaic </span><b style="left:328.5px;letter-spacing:0.23px">Answers</b></div>
<div class="sub">Solve the calculations to reveal the hidden picture. Each answer has a special colour.</div>
<div class="key k1 ka" style="left:16px;top:66px;height:12px">
<div class="ke" style="left:0.0px;width:95.5px">Red <b>= 5900</b></div>
<div class="ke" style="left:95.5px;width:95.5px">Green <b>= 5950</b></div>
<div class="sep" style="left:94.8px"></div>
<div class="ke" style="left:191.0px;width:95.5px">Black <b>= 6000</b></div>
<div class="sep" style="left:190.3px"></div>
<div class="ke" style="left:286.5px;width:95.5px">Blue <b>= 6050</b></div>
<div class="sep" style="left:285.8px"></div>
</div>
<div class="grid" style="left:20.2px;top:87.6px;width:293.3px;height:339.0px">
<div class="c" style="left:0.0px;top:0.0px;background:#00adee;"><span class="l1">5960 + </span><span class="l2">90</span></div>
<div class="c" style="left:41.9px;top:0.0px;background:#00adee;"><span class="l1">5150 + </span><span class="l2">900</span></div>
<div class="c" style="left:83.8px;top:0.0px;background:#00adee;"><span class="l1">1050 + </span><span class="l2">5000</span></div>
<div class="c" style="left:125.7px;top:0.0px;background:#00adee;"><span class="l1">6110 - </span><span class="l2">60</span></div>
<div class="c" style="left:167.6px;top:0.0px;background:#00adee;"><span class="l1">6750 - </span><span class="l2">700</span></div>
<div class="c" style="left:209.5px;top:0.0px;background:#00adee;"><span class="l1">6010 + </span><span class="l2">40</span></div>
<div class="c" style="left:251.4px;top:0.0px;background:#0a3fd0;"></div>
<div class="c" style="left:0.0px;top:33.9px;background:#00adee;"><span class="l1">2050 + </span><span class="l2">4000</span></div>
<div class="c" style="left:41.9px;top:33.9px;background:#00adee;"><span class="l1">5750 + </span><span class="l2">300</span></div>
<div class="c" style="left:83.8px;top:33.9px;background:#00adee;"><span class="l1">6350 - </span><span class="l2">300</span></div>
<div class="c" style="left:125.7px;top:33.9px;background:#00adee;"><span class="l1">9050 - </span><span class="l2">3000</span></div>
<div class="c" style="left:167.6px;top:33.9px;background:#00adee;"><span class="l1">6080 - </span><span class="l2">30</span></div>
<div class="c" style="left:209.5px;top:33.9px;background:#00adee;"><span class="l1">7050 - </span><span class="l2">1000</span></div>
<div class="c" style="left:251.4px;top:33.9px;background:#0a3fd0;"></div>
<div class="c" style="left:0.0px;top:67.8px;background:#00adee;"><span class="l1">6090 + </span><span class="l2">40</span></div>
<div class="c" style="left:41.9px;top:67.8px;background:#00adee;"><span class="l1">5650 + </span><span class="l2">400</span></div>
<div class="c" style="left:83.8px;top:67.8px;background:#00adee;"><span class="l1">5970 + </span><span class="l2">80</span></div>
<div class="c" style="left:125.7px;top:67.8px;background:#00adee;"><span class="l1">5250 + </span><span class="l2">800</span></div>
<div class="c" style="left:167.6px;top:67.8px;background:#00adee;"><span class="l1">5550 + </span><span class="l2">500</span></div>
<div class="c" style="left:209.5px;top:67.8px;background:#00adee;"><span class="l1">6030 + </span><span class="l2">20</span></div>
<div class="c" style="left:251.4px;top:67.8px;background:#ed2f2f;"></div>
<div class="c" style="left:0.0px;top:101.7px;background:#00adee;"><span class="l1">6850 - </span><span class="l2">800</span></div>
<div class="c" style="left:41.9px;top:101.7px;background:#00adee;"><span class="l1">6120 - </span><span class="l2">70</span></div>
<div class="c" style="left:83.8px;top:101.7px;background:#00adee;"><span class="l1">8050 - </span><span class="l2">2000</span></div>
<div class="c" style="left:125.7px;top:101.7px;background:#00adee;"><span class="l1">6950 - </span><span class="l2">900</span></div>
<div class="c" style="left:167.6px;top:101.7px;background:#00adee;"><span class="l1">5750 + </span><span class="l2">300</span></div>
<div class="c" style="left:209.5px;top:101.7px;background:#ed2f2f;"><span class="l1">5400 + </span><span class="l2">500</span></div>
<div class="c wt" style="left:251.4px;top:101.7px;background:#000000;"></div>
<div class="c" style="left:0.0px;top:135.6px;background:#00adee;"><span class="l1">5980 + </span><span class="l2">70</span></div>
<div class="c" style="left:41.9px;top:135.6px;background:#00adee;"><span class="l1">5350 + </span><span class="l2">700</span></div>
<div class="c" style="left:83.8px;top:135.6px;background:#00adee;"><span class="l1">2050 + </span><span class="l2">4000</span></div>
<div class="c" style="left:125.7px;top:135.6px;background:#00adee;"><span class="l0">6100 - 50</span></div>
<div class="c" style="left:167.6px;top:135.6px;background:#ed2f2f;"><span class="l1">6900 - </span><span class="l2">1000</span></div>
<div class="c" style="left:209.5px;top:135.6px;background:#ed2f2f;"><span class="l1">6700 - </span><span class="l2">800</span></div>
<div class="c" style="left:251.4px;top:135.6px;background:#ed2f2f;"></div>
<div class="c" style="left:0.0px;top:169.5px;background:#00adee;"><span class="l1">5850 + </span><span class="l2">200</span></div>
<div class="c" style="left:41.9px;top:169.5px;background:#00adee;"><span class="l1">6130 - </span><span class="l2">80</span></div>
<div class="c" style="left:83.8px;top:169.5px;background:#00adee;"><span class="l1">6450 - </span><span class="l2">400</span></div>
<div class="c" style="left:125.7px;top:169.5px;background:#ed2f2f;"><span class="l1">5000 + </span><span class="l2">900</span></div>
<div class="c" style="left:167.6px;top:169.5px;background:#ed2f2f;"><span class="l1">5840 + </span><span class="l2">60</span></div>
<div class="c wt" style="left:209.5px;top:169.5px;background:#000000;"><span class="l1">6400 - </span><span class="l2">400</span></div>
<div class="c" style="left:251.4px;top:169.5px;background:#ed2f2f;"></div>
<div class="c" style="left:0.0px;top:203.4px;background:#00adee;"><span class="l1">6020 + </span><span class="l2">30</span></div>
<div class="c" style="left:41.9px;top:203.4px;background:#00adee;"><span class="l1">6650 - </span><span class="l2">600</span></div>
<div class="c" style="left:83.8px;top:203.4px;background:#ed2f2f;"><span class="l0">5970 - 70</span></div>
<div class="c" style="left:125.7px;top:203.4px;background:#ed2f2f;"><span class="l1">2900 + </span><span class="l2">3000</span></div>
<div class="c" style="left:167.6px;top:203.4px;background:#ed2f2f;"><span class="l1">6400 - </span><span class="l2">500</span></div>
<div class="c" style="left:209.5px;top:203.4px;background:#ed2f2f;"><span class="l1">5880 + </span><span class="l2">20</span></div>
<div class="c" style="left:251.4px;top:203.4px;background:#ed2f2f;"></div>
<div class="c" style="left:0.0px;top:237.3px;background:#00adee;"><span class="l1">3050 + </span><span class="l2">3000</span></div>
<div class="c" style="left:41.9px;top:237.3px;background:#ed2f2f;"><span class="l1">6300 - </span><span class="l2">400</span></div>
<div class="c wt" style="left:83.8px;top:237.3px;background:#000000;"><span class="l1">5300 + </span><span class="l2">700</span></div>
<div class="c" style="left:125.7px;top:237.3px;background:#ed2f2f;"><span class="l1">5870 + </span><span class="l2">30</span></div>
<div class="c wt" style="left:167.6px;top:237.3px;background:#000000;"><span class="l1">5940 + </span><span class="l2">60</span></div>
<div class="c" style="left:209.5px;top:237.3px;background:#ed2f2f;"><span class="l1">8900 - </span><span class="l2">3000</span></div>
<div class="c" style="left:251.4px;top:237.3px;background:#12a24b;"></div>
<div class="c" style="left:0.0px;top:271.2px;background:#12a24b;"><span class="l1">6040 - </span><span class="l2">90</span></div>
<div class="c" style="left:41.9px;top:271.2px;background:#ed2f2f;"><span class="l1">5600 + </span><span class="l2">300</span></div>
<div class="c" style="left:83.8px;top:271.2px;background:#ed2f2f;"><span class="l0">5970 - 70</span></div>
<div class="c" style="left:125.7px;top:271.2px;background:#ed2f2f;"><span class="l1">4900 + </span><span class="l2">1000</span></div>
<div class="c" style="left:167.6px;top:271.2px;background:#ed2f2f;"><span class="l1">5100 + </span><span class="l2">800</span></div>
<div class="c" style="left:209.5px;top:271.2px;background:#12a24b;"><span class="l1">6450 - </span><span class="l2">500</span></div>
<div class="c" style="left:251.4px;top:271.2px;background:#0a3fd0;"></div>
<div class="c" style="left:0.0px;top:305.1px;background:#00adee;"><span class="l1">5950 + </span><span class="l2">100</span></div>
<div class="c" style="left:41.9px;top:305.1px;background:#12a24b;"><span class="l1">8950 - </span><span class="l2">3000</span></div>
<div class="c" style="left:83.8px;top:305.1px;background:#12a24b;"><span class="l1">5250 + </span><span class="l2">700</span></div>
<div class="c" style="left:125.7px;top:305.1px;background:#12a24b;"><span class="l1">5870 + </span><span class="l2">80</span></div>
<div class="c" style="left:167.6px;top:305.1px;background:#12a24b;"><span class="l1">6950 - </span><span class="l2">1000</span></div>
<div class="c" style="left:209.5px;top:305.1px;background:#00adee;"><span class="l1">6000 + </span><span class="l2">50</span></div>
<div class="c" style="left:251.4px;top:305.1px;background:#0a3fd0;"></div>
<svg class="gl" style="left:-2.20px;top:-2.10px" width="300" height="345" viewBox="-2.20 -2.10 300 345"><path d="M41.9 0.0V33.9M41.9 33.9V67.8M41.9 67.8V101.7M41.9 101.7V135.6M41.9 135.6V169.5M41.9 169.5V203.4M41.9 203.4V237.3M41.9 237.3V271.2M41.9 271.2V305.1M41.9 305.1V339.0M83.8 0.0V33.9M83.8 33.9V67.8M83.8 67.8V101.7M83.8 101.7V135.6M83.8 135.6V169.5M83.8 169.5V203.4M83.8 203.4V237.3M83.8 237.3V271.2M83.8 271.2V305.1M83.8 305.1V339.0M125.7 0.0V33.9M125.7 33.9V67.8M125.7 67.8V101.7M125.7 101.7V135.6M125.7 135.6V169.5M125.7 169.5V203.4M125.7 203.4V237.3M125.7 237.3V271.2M125.7 271.2V305.1M125.7 305.1V339.0M167.6 0.0V33.9M167.6 33.9V67.8M167.6 67.8V101.7M167.6 101.7V135.6M167.6 135.6V169.5M167.6 169.5V203.4M167.6 203.4V237.3M167.6 237.3V271.2M167.6 271.2V305.1M167.6 305.1V339.0M209.5 0.0V33.9M209.5 33.9V67.8M209.5 67.8V101.7M209.5 101.7V135.6M209.5 135.6V169.5M209.5 169.5V203.4M209.5 203.4V237.3M209.5 237.3V271.2M209.5 271.2V305.1M209.5 305.1V339.0M251.4 0.0V33.9M251.4 33.9V67.8M251.4 67.8V101.7M251.4 101.7V135.6M251.4 135.6V169.5M251.4 169.5V203.4M251.4 203.4V237.3M251.4 237.3V271.2M251.4 271.2V305.1M251.4 305.1V339.0M0.0 33.9H41.9M41.9 33.9H83.8M83.8 33.9H125.7M125.7 33.9H167.6M167.6 33.9H209.5M209.5 33.9H251.4M251.4 33.9H293.3M0.0 67.8H41.9M41.9 67.8H83.8M83.8 67.8H125.7M125.7 67.8H167.6M167.6 67.8H209.5M209.5 67.8H251.4M251.4 67.8H293.3M0.0 101.7H41.9M41.9 101.7H83.8M83.8 101.7H125.7M125.7 101.7H167.6M167.6 101.7H209.5M209.5 101.7H251.4M251.4 101.7H293.3M0.0 135.6H41.9M41.9 135.6H83.8M83.8 135.6H125.7M125.7 135.6H167.6M167.6 135.6H209.5M209.5 135.6H251.4M251.4 135.6H293.3M0.0 169.5H41.9M41.9 169.5H83.8M83.8 169.5H125.7M125.7 169.5H167.6M167.6 169.5H209.5M209.5 169.5H251.4M251.4 169.5H293.3M0.0 203.4H41.9M41.9 203.4H83.8M83.8 203.4H125.7M125.7 203.4H167.6M167.6 203.4H209.5M209.5 203.4H251.4M251.4 203.4H293.3M0.0 237.3H41.9M41.9 237.3H83.8M83.8 237.3H125.7M125.7 237.3H167.6M167.6 237.3H209.5M209.5 237.3H251.4M251.4 237.3H293.3M0.0 271.2H41.9M41.9 271.2H83.8M83.8 271.2H125.7M125.7 271.2H167.6M167.6 271.2H209.5M209.5 271.2H251.4M251.4 271.2H293.3M0.0 305.1H41.9M41.9 305.1H83.8M83.8 305.1H125.7M125.7 305.1H167.6M167.6 305.1H209.5M209.5 305.1H251.4M251.4 305.1H293.3" stroke="#000" stroke-opacity="0.7" stroke-width="0.7" fill="none"/><rect x="0" y="0" width="293.3" height="339.0" fill="none" stroke="#000" stroke-width="1.5"/></svg>
</div>
<div class="ch" style="top:435.3px;letter-spacing:0.537px"><b>Challenge:</b> Write five different calculations involving adding or subtracting multiples of 10</div>
<div class="ch" style="top:448.1px;letter-spacing:0.531px">which gives the answer of 5850.</div>
<div class="ch b" style="top:466.1px;letter-spacing:0.324px">Accept any calculation that uses multiples of 10 and has an answer of 5850.</div>
<div class="fl"></div>
<svg class="tw" viewBox="0 0 34 22" width="34" height="22"><g fill="#000"><ellipse cx="16" cy="10" rx="14.5" ry="7.2"/><circle cx="4.5" cy="10" r="4.2"/><circle cx="19.5" cy="5.2" r="5"/><circle cx="12" cy="6" r="4"/><circle cx="29.5" cy="6.8" r="3.4"/><circle cx="27" cy="10" r="5"/><circle cx="12" cy="16.2" r="4.6"/><circle cx="21" cy="15" r="4"/></g><text x="16" y="13" font-family="Liberation Sans, sans-serif" font-weight="700" font-size="8.2" fill="#fff" text-anchor="middle" textLength="23" lengthAdjust="spacingAndGlyphs">twinkl</text></svg>
</div>
<div class="pg" style="left:710.1px;z-index:5">
<div class="ttl wk" style="top:24.8px;font-size:16.75px;"><b style="left:26.3px;letter-spacing:0.87px">Healthy </b><b style="left:98.0px;letter-spacing:0.36px">Eating </b><b style="left:159.0px;letter-spacing:0.79px">Mental </b><b style="left:224.0px;letter-spacing:0.58px">Calculations </b><b style="left:338.0px;letter-spacing:-0.16px">Mosaic</b></div>
<div class="sub">Solve the calculations to reveal the hidden picture. Each answer has a special colour.</div>
<div class="key k1" style="left:20px;top:66px;height:16px">
<div class="ke" style="left:0.0px;width:94.75px">Grey <b>= 0.9</b></div>
<div class="ke" style="left:94.75px;width:94.75px">Blue <b>= 0.95</b></div>
<div class="sep" style="left:94.05px"></div>
<div class="ke" style="left:189.5px;width:94.75px">Brown <b>= 1</b></div>
<div class="sep" style="left:188.8px"></div>
<div class="ke" style="left:284.25px;width:94.75px">White <b>= 1.05</b></div>
<div class="sep" style="left:283.55px"></div>
</div>
<div class="grid wk" style="left:21.4px;top:91.1px;width:377.1px;height:339.0px">
<div class="c" style="left:0.0px;top:0.0px;"><span class="l0">1 - 0.1</span></div>
<div class="c" style="left:41.9px;top:0.0px;"><span class="l1">1.55 - </span><span class="l2">0.6</span></div>
<div class="c" style="left:83.8px;top:0.0px;"><span class="l1">0.55 + </span><span class="l2">0.35</span></div>
<div class="c" style="left:125.7px;top:0.0px;"><span class="l1">0.47 + </span><span class="l2">0.48</span></div>
<div class="c" style="left:167.6px;top:0.0px;"><span class="l1">1.03 - </span><span class="l2">0.13</span></div>
<div class="c" style="left:209.5px;top:0.0px;"><span class="l1">1.41 - </span><span class="l2">0.46</span></div>
<div class="c" style="left:251.4px;top:0.0px;"><span class="l1">0.94 + </span><span class="l2">0.01</span></div>
<div class="c" style="left:293.3px;top:0.0px;"><span class="l1">1.61 - </span><span class="l2">0.71</span></div>
<div class="c" style="left:335.2px;top:0.0px;"><span class="l1">1.52 - </span><span class="l2">0.57</span></div>
<div class="c" style="left:0.0px;top:33.9px;"><span class="l1">0.24 + </span><span class="l2">0.66</span></div>
<div class="c" style="left:41.9px;top:33.9px;"><span class="l1">1.49 - </span><span class="l2">0.54</span></div>
<div class="c" style="left:83.8px;top:33.9px;"><span class="l0">1.3 - 0.4</span></div>
<div class="c" style="left:125.7px;top:33.9px;"><span class="l1">0.49 + </span><span class="l2">0.46</span></div>
<div class="c" style="left:167.6px;top:33.9px;"><span class="l1">0.98 - </span><span class="l2">0.08</span></div>
<div class="c" style="left:209.5px;top:33.9px;"><span class="l1">0.29 + </span><span class="l2">0.66</span></div>
<div class="c" style="left:251.4px;top:33.9px;"><span class="l1">0.83 + </span><span class="l2">0.07</span></div>
<div class="c" style="left:293.3px;top:33.9px;"><span class="l1">1.98 - </span><span class="l2">1.08</span></div>
<div class="c" style="left:335.2px;top:33.9px;"><span class="l1">0.87 + </span><span class="l2">0.08</span></div>
<div class="c" style="left:0.0px;top:67.8px;"><span class="l1">0.59 + </span><span class="l2">0.31</span></div>
<div class="c" style="left:41.9px;top:67.8px;"><span class="l1">0.32 + </span><span class="l2">0.63</span></div>
<div class="c" style="left:83.8px;top:67.8px;"><span class="l1">0.73 + </span><span class="l2">0.17</span></div>
<div class="c" style="left:125.7px;top:67.8px;"><span class="l1">0.37 + </span><span class="l2">0.58</span></div>
<div class="c" style="left:167.6px;top:67.8px;"><span class="l1">0.09 + </span><span class="l2">0.81</span></div>
<div class="c" style="left:209.5px;top:67.8px;"><span class="l1">0.74 + </span><span class="l2">0.21</span></div>
<div class="c" style="left:251.4px;top:67.8px;"><span class="l1">0.75 + </span><span class="l2">0.15</span></div>
<div class="c" style="left:293.3px;top:67.8px;"><span class="l1">0.67 + </span><span class="l2">0.23</span></div>
<div class="c" style="left:335.2px;top:67.8px;"><span class="l1">1.39 - </span><span class="l2">0.44</span></div>
<div class="c" style="left:0.0px;top:101.7px;"><span class="l1">0.33 + </span><span class="l2">0.57</span></div>
<div class="c" style="left:41.9px;top:101.7px;"><span class="l1">1.11 - </span><span class="l2">0.21</span></div>
<div class="c" style="left:83.8px;top:101.7px;"><span class="l1">0.16 + </span><span class="l2">0.74</span></div>
<div class="c" style="left:125.7px;top:101.7px;"><span class="l1">0.65 + </span><span class="l2">0.25</span></div>
<div class="c" style="left:167.6px;top:101.7px;"><span class="l1">1.96 - </span><span class="l2">0.96</span></div>
<div class="c" style="left:209.5px;top:101.7px;"><span class="l1">0.43 + </span><span class="l2">0.52</span></div>
<div class="c" style="left:251.4px;top:101.7px;"><span class="l1">0.8 + </span><span class="l2">0.1</span></div>
<div class="c" style="left:293.3px;top:101.7px;"><span class="l1">1.04 - </span><span class="l2">0.14</span></div>
<div class="c" style="left:335.2px;top:101.7px;"><span class="l1">1.65 - </span><span class="l2">0.7</span></div>
<div class="c" style="left:0.0px;top:135.6px;"><span class="l1">0.88 + </span><span class="l2">0.07</span></div>
<div class="c" style="left:41.9px;top:135.6px;"><span class="l1">0.57 + </span><span class="l2">0.38</span></div>
<div class="c" style="left:83.8px;top:135.6px;"><span class="l1">0.32 + </span><span class="l2">0.58</span></div>
<div class="c" style="left:125.7px;top:135.6px;"><span class="l1">1.69 - </span><span class="l2">0.74</span></div>
<div class="c" style="left:167.6px;top:135.6px;"><span class="l1">1.42 - </span><span class="l2">0.47</span></div>
<div class="c" style="left:209.5px;top:135.6px;"><span class="l1">0.37 + </span><span class="l2">0.58</span></div>
<div class="c" style="left:251.4px;top:135.6px;"><span class="l1">0.28 + </span><span class="l2">0.62</span></div>
<div class="c" style="left:293.3px;top:135.6px;"><span class="l1">1.6 - </span><span class="l2">0.7</span></div>
<div class="c" style="left:335.2px;top:135.6px;"><span class="l1">0.97 - </span><span class="l2">0.02</span></div>
<div class="c" style="left:0.0px;top:169.5px;"><span class="l1">0.9 + </span><span class="l2">0.05</span></div>
<div class="c" style="left:41.9px;top:169.5px;"><span class="l1">0.2 + </span><span class="l2">0.75</span></div>
<div class="c" style="left:83.8px;top:169.5px;"><span class="l1">0.8 + </span><span class="l2">0.2</span></div>
<div class="c" style="left:125.7px;top:169.5px;"><span class="l1">1.18 - </span><span class="l2">0.13</span></div>
<div class="c" style="left:167.6px;top:169.5px;"><span class="l1">0.02 + </span><span class="l2">1.03</span></div>
<div class="c" style="left:209.5px;top:169.5px;"><span class="l1">0.09 + </span><span class="l2">0.96</span></div>
<div class="c" style="left:251.4px;top:169.5px;"><span class="l1">0.35 + </span><span class="l2">0.6</span></div>
<div class="c" style="left:293.3px;top:169.5px;"><span class="l1">0.11 + </span><span class="l2">0.89</span></div>
<div class="c" style="left:335.2px;top:169.5px;"><span class="l1">1.21 - </span><span class="l2">0.26</span></div>
<div class="c" style="left:0.0px;top:203.4px;"><span class="l1">0.5 + </span><span class="l2">0.45</span></div>
<div class="c" style="left:41.9px;top:203.4px;"><span class="l1">0.46 + </span><span class="l2">0.59</span></div>
<div class="c" style="left:83.8px;top:203.4px;"><span class="l1">1.09 - </span><span class="l2">0.09</span></div>
<div class="c" style="left:125.7px;top:203.4px;"><span class="l1">0.98 + </span><span class="l2">0.07</span></div>
<div class="c" style="left:167.6px;top:203.4px;"><span class="l1">1.2 - </span><span class="l2">0.15</span></div>
<div class="c" style="left:209.5px;top:203.4px;"><span class="l1">0.46 + </span><span class="l2">0.59</span></div>
<div class="c" style="left:251.4px;top:203.4px;"><span class="l1">0.33 + </span><span class="l2">0.72</span></div>
<div class="c" style="left:293.3px;top:203.4px;"><span class="l1">0.04 + </span><span class="l2">0.96</span></div>
<div class="c" style="left:335.2px;top:203.4px;"><span class="l1">1.6 - </span><span class="l2">0.65</span></div>
<div class="c" style="left:0.0px;top:237.3px;"><span class="l1">1.11 - </span><span class="l2">0.16</span></div>
<div class="c" style="left:41.9px;top:237.3px;"><span class="l1">0.12 + </span><span class="l2">0.93</span></div>
<div class="c" style="left:83.8px;top:237.3px;"><span class="l1">0.94 + </span><span class="l2">0.06</span></div>
<div class="c" style="left:125.7px;top:237.3px;"><span class="l1">0.48 + </span><span class="l2">0.57</span></div>
<div class="c" style="left:167.6px;top:237.3px;"><span class="l1">0.64 + </span><span class="l2">0.41</span></div>
<div class="c" style="left:209.5px;top:237.3px;"><span class="l1">0.55 + </span><span class="l2">0.5</span></div>
<div class="c" style="left:251.4px;top:237.3px;"><span class="l1">1.45 - </span><span class="l2">0.4</span></div>
<div class="c" style="left:293.3px;top:237.3px;"><span class="l1">0.71 + </span><span class="l2">0.29</span></div>
<div class="c" style="left:335.2px;top:237.3px;"><span class="l1">0.91 + </span><span class="l2">0.04</span></div>
<div class="c" style="left:0.0px;top:271.2px;"><span class="l1">0.65 + </span><span class="l2">0.4</span></div>
<div class="c" style="left:41.9px;top:271.2px;"><span class="l1">0.64 + </span><span class="l2">0.41</span></div>
<div class="c" style="left:83.8px;top:271.2px;"><span class="l1">0.21 + </span><span class="l2">0.79</span></div>
<div class="c" style="left:125.7px;top:271.2px;"><span class="l1">0.81 + </span><span class="l2">0.24</span></div>
<div class="c" style="left:167.6px;top:271.2px;"><span class="l1">0.89 + </span><span class="l2">0.16</span></div>
<div class="c" style="left:209.5px;top:271.2px;"><span class="l1">0.18 + </span><span class="l2">0.87</span></div>
<div class="c" style="left:251.4px;top:271.2px;"><span class="l1">1.57 - </span><span class="l2">0.52</span></div>
<div class="c" style="left:293.3px;top:271.2px;"><span class="l1">1.19 - </span><span class="l2">0.19</span></div>
<div class="c" style="left:335.2px;top:271.2px;"><span class="l1">0.69 + </span><span class="l2">0.36</span></div>
<div class="c" style="left:0.0px;top:305.1px;"><span class="l1">0.02 + </span><span class="l2">1.03</span></div>
<div class="c" style="left:41.9px;top:305.1px;"><span class="l1">0.69 + </span><span class="l2">0.36</span></div>
<div class="c" style="left:83.8px;top:305.1px;"><span class="l1">0.99 + </span><span class="l2">0.01</span></div>
<div class="c" style="left:125.7px;top:305.1px;"><span class="l1">0.63 + </span><span class="l2">0.42</span></div>
<div class="c" style="left:167.6px;top:305.1px;"><span class="l1">0.33 + </span><span class="l2">0.72</span></div>
<div class="c" style="left:209.5px;top:305.1px;"><span class="l1">1.3 - </span><span class="l2">0.25</span></div>
<div class="c" style="left:251.4px;top:305.1px;"><span class="l1">1.95 - </span><span class="l2">0.9</span></div>
<div class="c" style="left:293.3px;top:305.1px;"><span class="l1">0.45 + </span><span class="l2">0.55</span></div>
<div class="c" style="left:335.2px;top:305.1px;"><span class="l1">0.45 + </span><span class="l2">0.6</span></div>
<svg class="gl" shape-rendering="crispEdges" style="left:-2.00px;top:-2.60px" width="384" height="345" viewBox="-2.00 -2.60 384 345"><path d="M41.9 0.0V33.9M41.9 33.9V67.8M41.9 67.8V101.7M41.9 101.7V135.6M41.9 135.6V169.5M41.9 169.5V203.4M41.9 203.4V237.3M41.9 237.3V271.2M41.9 271.2V305.1M41.9 305.1V339.0M83.8 0.0V33.9M83.8 33.9V67.8M83.8 67.8V101.7M83.8 101.7V135.6M83.8 135.6V169.5M83.8 169.5V203.4M83.8 203.4V237.3M83.8 237.3V271.2M83.8 271.2V305.1M83.8 305.1V339.0M125.7 0.0V33.9M125.7 33.9V67.8M125.7 67.8V101.7M125.7 101.7V135.6M125.7 135.6V169.5M125.7 169.5V203.4M125.7 203.4V237.3M125.7 237.3V271.2M125.7 271.2V305.1M125.7 305.1V339.0M167.6 0.0V33.9M167.6 33.9V67.8M167.6 67.8V101.7M167.6 101.7V135.6M167.6 135.6V169.5M167.6 169.5V203.4M167.6 203.4V237.3M167.6 237.3V271.2M167.6 271.2V305.1M167.6 305.1V339.0M209.5 0.0V33.9M209.5 33.9V67.8M209.5 67.8V101.7M209.5 101.7V135.6M209.5 135.6V169.5M209.5 169.5V203.4M209.5 203.4V237.3M209.5 237.3V271.2M209.5 271.2V305.1M209.5 305.1V339.0M251.4 0.0V33.9M251.4 33.9V67.8M251.4 67.8V101.7M251.4 101.7V135.6M251.4 135.6V169.5M251.4 169.5V203.4M251.4 203.4V237.3M251.4 237.3V271.2M251.4 271.2V305.1M251.4 305.1V339.0M293.3 0.0V33.9M293.3 33.9V67.8M293.3 67.8V101.7M293.3 101.7V135.6M293.3 135.6V169.5M293.3 169.5V203.4M293.3 203.4V237.3M293.3 237.3V271.2M293.3 271.2V305.1M293.3 305.1V339.0M335.2 0.0V33.9M335.2 33.9V67.8M335.2 67.8V101.7M335.2 101.7V135.6M335.2 135.6V169.5M335.2 169.5V203.4M335.2 203.4V237.3M335.2 237.3V271.2M335.2 271.2V305.1M335.2 305.1V339.0M0.0 33.9H41.9M41.9 33.9H83.8M83.8 33.9H125.7M125.7 33.9H167.6M167.6 33.9H209.5M209.5 33.9H251.4M251.4 33.9H293.3M293.3 33.9H335.2M335.2 33.9H377.1M0.0 67.8H41.9M41.9 67.8H83.8M83.8 67.8H125.7M125.7 67.8H167.6M167.6 67.8H209.5M209.5 67.8H251.4M251.4 67.8H293.3M293.3 67.8H335.2M335.2 67.8H377.1M0.0 101.7H41.9M41.9 101.7H83.8M83.8 101.7H125.7M125.7 101.7H167.6M167.6 101.7H209.5M209.5 101.7H251.4M251.4 101.7H293.3M293.3 101.7H335.2M335.2 101.7H377.1M0.0 135.6H41.9M41.9 135.6H83.8M83.8 135.6H125.7M125.7 135.6H167.6M167.6 135.6H209.5M209.5 135.6H251.4M251.4 135.6H293.3M293.3 135.6H335.2M335.2 135.6H377.1M0.0 169.5H41.9M41.9 169.5H83.8M83.8 169.5H125.7M125.7 169.5H167.6M167.6 169.5H209.5M209.5 169.5H251.4M251.4 169.5H293.3M293.3 169.5H335.2M335.2 169.5H377.1M0.0 203.4H41.9M41.9 203.4H83.8M83.8 203.4H125.7M125.7 203.4H167.6M167.6 203.4H209.5M209.5 203.4H251.4M251.4 203.4H293.3M293.3 203.4H335.2M335.2 203.4H377.1M0.0 237.3H41.9M41.9 237.3H83.8M83.8 237.3H125.7M125.7 237.3H167.6M167.6 237.3H209.5M209.5 237.3H251.4M251.4 237.3H293.3M293.3 237.3H335.2M335.2 237.3H377.1M0.0 271.2H41.9M41.9 271.2H83.8M83.8 271.2H125.7M125.7 271.2H167.6M167.6 271.2H209.5M209.5 271.2H251.4M251.4 271.2H293.3M293.3 271.2H335.2M335.2 271.2H377.1M0.0 305.1H41.9M41.9 305.1H83.8M83.8 305.1H125.7M125.7 305.1H167.6M167.6 305.1H209.5M209.5 305.1H251.4M251.4 305.1H293.3M293.3 305.1H335.2M335.2 305.1H377.1" stroke="#000" stroke-opacity="0.9" stroke-width="0.9" fill="none"/><rect x="0" y="0" width="377.1" height="339.0" fill="none" stroke="#000" stroke-width="1"/></svg>
</div>
<div class="ch" style="top:438.4px;letter-spacing:0.633px"><b>Challenge:</b> Write five different calculations involving adding or subtracting decimals which</div>
<div class="ch" style="top:451.4px;letter-spacing:0.396px">gives the answer of 5.</div>
<div class="fl"></div>
<svg class="tw" viewBox="0 0 34 22" width="34" height="22"><g fill="#000"><ellipse cx="16" cy="10" rx="14.5" ry="7.2"/><circle cx="4.5" cy="10" r="4.2"/><circle cx="19.5" cy="5.2" r="5"/><circle cx="12" cy="6" r="4"/><circle cx="29.5" cy="6.8" r="3.4"/><circle cx="27" cy="10" r="5"/><circle cx="12" cy="16.2" r="4.6"/><circle cx="21" cy="15" r="4"/></g><text x="16" y="13" font-family="Liberation Sans, sans-serif" font-weight="700" font-size="8.2" fill="#fff" text-anchor="middle" textLength="23" lengthAdjust="spacingAndGlyphs">twinkl</text></svg>
</div>
<div class="pg" style="left:797.5px;z-index:6">
<div class="ttl" style="top:25.7px;font-size:13.8px;"><span style="left:33.2px;letter-spacing:0.68px">Healthy </span><span style="left:90.9px;letter-spacing:0.45px">Eating </span><span style="left:139.1px;letter-spacing:0.62px">Mental </span><span style="left:189.7px;letter-spacing:0.63px">Calculations </span><span style="left:278.4px;letter-spacing:0.06px">Mosaic </span><b style="left:328.5px;letter-spacing:0.23px">Answers</b></div>
<div class="sub">Solve the calculations to reveal the hidden picture. Each answer has a special colour.</div>
<div class="key k1" style="left:20px;top:66px;height:16px">
<div class="ke" style="left:0.0px;width:94.75px">Grey <b>= 0.9</b></div>
<div class="ke" style="left:94.75px;width:94.75px">Blue <b>= 0.95</b></div>
<div class="sep" style="left:94.05px"></div>
<div class="ke" style="left:189.5px;width:94.75px">Brown <b>= 1</b></div>
<div class="sep" style="left:188.8px"></div>
<div class="ke" style="left:284.25px;width:94.75px">White <b>= 1.05</b></div>
<div class="sep" style="left:283.55px"></div>
</div>
<div class="grid" style="left:20.7px;top:91.1px;width:377.1px;height:339.0px">
<div class="c gt" style="left:0.0px;top:0.0px;background:#6d6d6e;"><span class="l0">1 - 0.1</span></div>
<div class="c" style="left:41.9px;top:0.0px;background:#86c8ea;"><span class="l1">1.55 - </span><span class="l2">0.6</span></div>
<div class="c gt" style="left:83.8px;top:0.0px;background:#6d6d6e;"><span class="l1">0.55 + </span><span class="l2">0.35</span></div>
<div class="c" style="left:125.7px;top:0.0px;background:#86c8ea;"><span class="l1">0.47 + </span><span class="l2">0.48</span></div>
<div class="c gt" style="left:167.6px;top:0.0px;background:#6d6d6e;"><span class="l1">1.03 - </span><span class="l2">0.13</span></div>
<div class="c" style="left:209.5px;top:0.0px;background:#86c8ea;"><span class="l1">1.41 - </span><span class="l2">0.46</span></div>
<div class="c" style="left:251.4px;top:0.0px;background:#86c8ea;"><span class="l1">0.94 + </span><span class="l2">0.01</span></div>
<div class="c gt" style="left:293.3px;top:0.0px;background:#6d6d6e;"><span class="l1">1.61 - </span><span class="l2">0.71</span></div>
<div class="c" style="left:335.2px;top:0.0px;background:#86c8ea;"><span class="l1">1.52 - </span><span class="l2">0.57</span></div>
<div class="c gt" style="left:0.0px;top:33.9px;background:#6d6d6e;"><span class="l1">0.24 + </span><span class="l2">0.66</span></div>
<div class="c" style="left:41.9px;top:33.9px;background:#86c8ea;"><span class="l1">1.49 - </span><span class="l2">0.54</span></div>
<div class="c gt" style="left:83.8px;top:33.9px;background:#6d6d6e;"><span class="l0">1.3 - 0.4</span></div>
<div class="c" style="left:125.7px;top:33.9px;background:#86c8ea;"><span class="l1">0.49 + </span><span class="l2">0.46</span></div>
<div class="c gt" style="left:167.6px;top:33.9px;background:#6d6d6e;"><span class="l1">0.98 - </span><span class="l2">0.08</span></div>
<div class="c" style="left:209.5px;top:33.9px;background:#86c8ea;"><span class="l1">0.29 + </span><span class="l2">0.66</span></div>
<div class="c gt" style="left:251.4px;top:33.9px;background:#6d6d6e;"><span class="l1">0.83 + </span><span class="l2">0.07</span></div>
<div class="c gt" style="left:293.3px;top:33.9px;background:#6d6d6e;"><span class="l1">1.98 - </span><span class="l2">1.08</span></div>
<div class="c" style="left:335.2px;top:33.9px;background:#86c8ea;"><span class="l1">0.87 + </span><span class="l2">0.08</span></div>
<div class="c gt" style="left:0.0px;top:67.8px;background:#6d6d6e;"><span class="l1">0.59 + </span><span class="l2">0.31</span></div>
<div class="c" style="left:41.9px;top:67.8px;background:#86c8ea;"><span class="l1">0.32 + </span><span class="l2">0.63</span></div>
<div class="c gt" style="left:83.8px;top:67.8px;background:#6d6d6e;"><span class="l1">0.73 + </span><span class="l2">0.17</span></div>
<div class="c" style="left:125.7px;top:67.8px;background:#86c8ea;"><span class="l1">0.37 + </span><span class="l2">0.58</span></div>
<div class="c gt" style="left:167.6px;top:67.8px;background:#6d6d6e;"><span class="l1">0.09 + </span><span class="l2">0.81</span></div>
<div class="c" style="left:209.5px;top:67.8px;background:#86c8ea;"><span class="l1">0.74 + </span><span class="l2">0.21</span></div>
<div class="c gt" style="left:251.4px;top:67.8px;background:#6d6d6e;"><span class="l1">0.75 + </span><span class="l2">0.15</span></div>
<div class="c gt" style="left:293.3px;top:67.8px;background:#6d6d6e;"><span class="l1">0.67 + </span><span class="l2">0.23</span></div>
<div class="c" style="left:335.2px;top:67.8px;background:#86c8ea;"><span class="l1">1.39 - </span><span class="l2">0.44</span></div>
<div class="c gt" style="left:0.0px;top:101.7px;background:#6d6d6e;"><span class="l1">0.33 + </span><span class="l2">0.57</span></div>
<div class="c gt" style="left:41.9px;top:101.7px;background:#6d6d6e;"><span class="l1">1.11 - </span><span class="l2">0.21</span></div>
<div class="c gt" style="left:83.8px;top:101.7px;background:#6d6d6e;"><span class="l1">0.16 + </span><span class="l2">0.74</span></div>
<div class="c gt" style="left:125.7px;top:101.7px;background:#6d6d6e;"><span class="l1">0.65 + </span><span class="l2">0.25</span></div>
<div class="c gt" style="left:167.6px;top:101.7px;background:#6d6d6e;"><span class="l1">1.96 - </span><span class="l2">0.96</span></div>
<div class="c" style="left:209.5px;top:101.7px;background:#86c8ea;"><span class="l1">0.43 + </span><span class="l2">0.52</span></div>
<div class="c gt" style="left:251.4px;top:101.7px;background:#6d6d6e;"><span class="l1">0.8 + </span><span class="l2">0.1</span></div>
<div class="c gt" style="left:293.3px;top:101.7px;background:#6d6d6e;"><span class="l1">1.04 - </span><span class="l2">0.14</span></div>
<div class="c" style="left:335.2px;top:101.7px;background:#86c8ea;"><span class="l1">1.65 - </span><span class="l2">0.7</span></div>
<div class="c" style="left:0.0px;top:135.6px;background:#86c8ea;"><span class="l1">0.88 + </span><span class="l2">0.07</span></div>
<div class="c" style="left:41.9px;top:135.6px;background:#86c8ea;"><span class="l1">0.57 + </span><span class="l2">0.38</span></div>
<div class="c gt" style="left:83.8px;top:135.6px;background:#6d6d6e;"><span class="l1">0.32 + </span><span class="l2">0.58</span></div>
<div class="c" style="left:125.7px;top:135.6px;background:#86c8ea;"><span class="l1">1.69 - </span><span class="l2">0.74</span></div>
<div class="c" style="left:167.6px;top:135.6px;background:#86c8ea;"><span class="l1">1.42 - </span><span class="l2">0.47</span></div>
<div class="c" style="left:209.5px;top:135.6px;background:#86c8ea;"><span class="l1">0.37 + </span><span class="l2">0.58</span></div>
<div class="c gt" style="left:251.4px;top:135.6px;background:#6d6d6e;"><span class="l1">0.28 + </span><span class="l2">0.62</span></div>
<div class="c gt" style="left:293.3px;top:135.6px;background:#6d6d6e;"><span class="l1">1.6 - </span><span class="l2">0.7</span></div>
<div class="c" style="left:335.2px;top:135.6px;background:#86c8ea;"><span class="l1">0.97 - </span><span class="l2">0.02</span></div>
<div class="c" style="left:0.0px;top:169.5px;background:#86c8ea;"><span class="l1">0.9 + </span><span class="l2">0.05</span></div>
<div class="c" style="left:41.9px;top:169.5px;background:#86c8ea;"><span class="l1">0.2 + </span><span class="l2">0.75</span></div>
<div class="c" style="left:83.8px;top:169.5px;background:#8b6138;"><span class="l1">0.8 + </span><span class="l2">0.2</span></div>
<div class="c" style="left:125.7px;top:169.5px;"><span class="l1">1.18 - </span><span class="l2">0.13</span></div>
<div class="c" style="left:167.6px;top:169.5px;"><span class="l1">0.02 + </span><span class="l2">1.03</span></div>
<div class="c" style="left:209.5px;top:169.5px;"><span class="l1">0.09 + </span><span class="l2">0.96</span></div>
<div class="c" style="left:251.4px;top:169.5px;background:#86c8ea;"><span class="l1">0.35 + </span><span class="l2">0.6</span></div>
<div class="c" style="left:293.3px;top:169.5px;background:#8b6138;"><span class="l1">0.11 + </span><span class="l2">0.89</span></div>
<div class="c" style="left:335.2px;top:169.5px;background:#86c8ea;"><span class="l1">1.21 - </span><span class="l2">0.26</span></div>
<div class="c" style="left:0.0px;top:203.4px;background:#86c8ea;"><span class="l1">0.5 + </span><span class="l2">0.45</span></div>
<div class="c" style="left:41.9px;top:203.4px;"><span class="l1">0.46 + </span><span class="l2">0.59</span></div>
<div class="c" style="left:83.8px;top:203.4px;background:#8b6138;"><span class="l1">1.09 - </span><span class="l2">0.09</span></div>
<div class="c" style="left:125.7px;top:203.4px;"><span class="l1">0.98 + </span><span class="l2">0.07</span></div>
<div class="c" style="left:167.6px;top:203.4px;"><span class="l1">1.2 - </span><span class="l2">0.15</span></div>
<div class="c" style="left:209.5px;top:203.4px;"><span class="l1">0.46 + </span><span class="l2">0.59</span></div>
<div class="c" style="left:251.4px;top:203.4px;"><span class="l1">0.33 + </span><span class="l2">0.72</span></div>
<div class="c" style="left:293.3px;top:203.4px;background:#8b6138;"><span class="l1">0.04 + </span><span class="l2">0.96</span></div>
<div class="c" style="left:335.2px;top:203.4px;background:#86c8ea;"><span class="l1">1.6 - </span><span class="l2">0.65</span></div>
<div class="c" style="left:0.0px;top:237.3px;background:#86c8ea;"><span class="l1">1.11 - </span><span class="l2">0.16</span></div>
<div class="c" style="left:41.9px;top:237.3px;"><span class="l1">0.12 + </span><span class="l2">0.93</span></div>
<div class="c" style="left:83.8px;top:237.3px;background:#8b6138;"><span class="l1">0.94 + </span><span class="l2">0.06</span></div>
<div class="c" style="left:125.7px;top:237.3px;"><span class="l1">0.48 + </span><span class="l2">0.57</span></div>
<div class="c" style="left:167.6px;top:237.3px;"><span class="l1">0.64 + </span><span class="l2">0.41</span></div>
<div class="c" style="left:209.5px;top:237.3px;"><span class="l1">0.55 + </span><span class="l2">0.5</span></div>
<div class="c" style="left:251.4px;top:237.3px;"><span class="l1">1.45 - </span><span class="l2">0.4</span></div>
<div class="c" style="left:293.3px;top:237.3px;background:#8b6138;"><span class="l1">0.71 + </span><span class="l2">0.29</span></div>
<div class="c" style="left:335.2px;top:237.3px;background:#86c8ea;"><span class="l1">0.91 + </span><span class="l2">0.04</span></div>
<div class="c" style="left:0.0px;top:271.2px;"><span class="l1">0.65 + </span><span class="l2">0.4</span></div>
<div class="c" style="left:41.9px;top:271.2px;"><span class="l1">0.64 + </span><span class="l2">0.41</span></div>
<div class="c" style="left:83.8px;top:271.2px;background:#8b6138;"><span class="l1">0.21 + </span><span class="l2">0.79</span></div>
<div class="c" style="left:125.7px;top:271.2px;"><span class="l1">0.81 + </span><span class="l2">0.24</span></div>
<div class="c" style="left:167.6px;top:271.2px;"><span class="l1">0.89 + </span><span class="l2">0.16</span></div>
<div class="c" style="left:209.5px;top:271.2px;"><span class="l1">0.18 + </span><span class="l2">0.87</span></div>
<div class="c" style="left:251.4px;top:271.2px;"><span class="l1">1.57 - </span><span class="l2">0.52</span></div>
<div class="c" style="left:293.3px;top:271.2px;background:#8b6138;"><span class="l1">1.19 - </span><span class="l2">0.19</span></div>
<div class="c" style="left:335.2px;top:271.2px;"><span class="l1">0.69 + </span><span class="l2">0.36</span></div>
<div class="c" style="left:0.0px;top:305.1px;"><span class="l1">0.02 + </span><span class="l2">1.03</span></div>
<div class="c" style="left:41.9px;top:305.1px;"><span class="l1">0.69 + </span><span class="l2">0.36</span></div>
<div class="c" style="left:83.8px;top:305.1px;background:#8b6138;"><span class="l1">0.99 + </span><span class="l2">0.01</span></div>
<div class="c" style="left:125.7px;top:305.1px;"><span class="l1">0.63 + </span><span class="l2">0.42</span></div>
<div class="c" style="left:167.6px;top:305.1px;"><span class="l1">0.33 + </span><span class="l2">0.72</span></div>
<div class="c" style="left:209.5px;top:305.1px;"><span class="l1">1.3 - </span><span class="l2">0.25</span></div>
<div class="c" style="left:251.4px;top:305.1px;"><span class="l1">1.95 - </span><span class="l2">0.9</span></div>
<div class="c" style="left:293.3px;top:305.1px;background:#8b6138;"><span class="l1">0.45 + </span><span class="l2">0.55</span></div>
<div class="c" style="left:335.2px;top:305.1px;"><span class="l1">0.45 + </span><span class="l2">0.6</span></div>
<svg class="gl" style="left:-2.70px;top:-2.60px" width="384" height="345" viewBox="-2.70 -2.60 384 345"><path d="M41.9 271.2V305.1M41.9 305.1V339.0M167.6 169.5V203.4M167.6 203.4V237.3M167.6 237.3V271.2M167.6 271.2V305.1M167.6 305.1V339.0M209.5 169.5V203.4M209.5 203.4V237.3M209.5 237.3V271.2M209.5 271.2V305.1M209.5 305.1V339.0M251.4 203.4V237.3M251.4 237.3V271.2M251.4 271.2V305.1M251.4 305.1V339.0M125.7 203.4H167.6M167.6 203.4H209.5M209.5 203.4H251.4M41.9 237.3H83.8M125.7 237.3H167.6M167.6 237.3H209.5M209.5 237.3H251.4M251.4 237.3H293.3M41.9 271.2H83.8M125.7 271.2H167.6M167.6 271.2H209.5M209.5 271.2H251.4M251.4 271.2H293.3M0.0 305.1H41.9M41.9 305.1H83.8M125.7 305.1H167.6M167.6 305.1H209.5M209.5 305.1H251.4M251.4 305.1H293.3M335.2 305.1H377.1" stroke="#6a6a6a" stroke-width=".65" fill="none"/><path d="M41.9 0.0V33.9M41.9 33.9V67.8M41.9 67.8V101.7M41.9 101.7V135.6M41.9 135.6V169.5M41.9 169.5V203.4M41.9 203.4V237.3M41.9 237.3V271.2M83.8 0.0V33.9M83.8 33.9V67.8M83.8 67.8V101.7M83.8 101.7V135.6M83.8 135.6V169.5M83.8 169.5V203.4M83.8 203.4V237.3M83.8 237.3V271.2M83.8 271.2V305.1M83.8 305.1V339.0M125.7 0.0V33.9M125.7 33.9V67.8M125.7 67.8V101.7M125.7 101.7V135.6M125.7 135.6V169.5M125.7 169.5V203.4M125.7 203.4V237.3M125.7 237.3V271.2M125.7 271.2V305.1M125.7 305.1V339.0M167.6 0.0V33.9M167.6 33.9V67.8M167.6 67.8V101.7M167.6 101.7V135.6M167.6 135.6V169.5M209.5 0.0V33.9M209.5 33.9V67.8M209.5 67.8V101.7M209.5 101.7V135.6M209.5 135.6V169.5M251.4 0.0V33.9M251.4 33.9V67.8M251.4 67.8V101.7M251.4 101.7V135.6M251.4 135.6V169.5M251.4 169.5V203.4M293.3 0.0V33.9M293.3 33.9V67.8M293.3 67.8V101.7M293.3 101.7V135.6M293.3 135.6V169.5M293.3 169.5V203.4M293.3 203.4V237.3M293.3 237.3V271.2M293.3 271.2V305.1M293.3 305.1V339.0M335.2 0.0V33.9M335.2 33.9V67.8M335.2 67.8V101.7M335.2 101.7V135.6M335.2 135.6V169.5M335.2 169.5V203.4M335.2 203.4V237.3M335.2 237.3V271.2M335.2 271.2V305.1M335.2 305.1V339.0M0.0 33.9H41.9M41.9 33.9H83.8M83.8 33.9H125.7M125.7 33.9H167.6M167.6 33.9H209.5M209.5 33.9H251.4M251.4 33.9H293.3M293.3 33.9H335.2M335.2 33.9H377.1M0.0 67.8H41.9M41.9 67.8H83.8M83.8 67.8H125.7M125.7 67.8H167.6M167.6 67.8H209.5M209.5 67.8H251.4M251.4 67.8H293.3M293.3 67.8H335.2M335.2 67.8H377.1M0.0 101.7H41.9M41.9 101.7H83.8M83.8 101.7H125.7M125.7 101.7H167.6M167.6 101.7H209.5M209.5 101.7H251.4M251.4 101.7H293.3M293.3 101.7H335.2M335.2 101.7H377.1M0.0 135.6H41.9M41.9 135.6H83.8M83.8 135.6H125.7M125.7 135.6H167.6M167.6 135.6H209.5M209.5 135.6H251.4M251.4 135.6H293.3M293.3 135.6H335.2M335.2 135.6H377.1M0.0 169.5H41.9M41.9 169.5H83.8M83.8 169.5H125.7M125.7 169.5H167.6M167.6 169.5H209.5M209.5 169.5H251.4M251.4 169.5H293.3M293.3 169.5H335.2M335.2 169.5H377.1M0.0 203.4H41.9M41.9 203.4H83.8M83.8 203.4H125.7M251.4 203.4H293.3M293.3 203.4H335.2M335.2 203.4H377.1M0.0 237.3H41.9M83.8 237.3H125.7M293.3 237.3H335.2M335.2 237.3H377.1M0.0 271.2H41.9M83.8 271.2H125.7M293.3 271.2H335.2M335.2 271.2H377.1M83.8 305.1H125.7M293.3 305.1H335.2" stroke="#000" stroke-opacity="0.7" stroke-width="0.7" fill="none"/><rect x="0" y="0" width="377.1" height="339.0" fill="none" stroke="#000" stroke-width="1.5"/></svg>
</div>
<div class="ch" style="top:438.4px;letter-spacing:0.633px"><b>Challenge:</b> Write five different calculations involving adding or subtracting decimals which</div>
<div class="ch" style="top:451.4px;letter-spacing:0.396px">gives the answer of 5.</div>
<div class="ch b" style="top:469.7px;letter-spacing:0.337px">Accept any calculation that involves decimal numbers and has an answer of 5.</div>
<div class="fl"></div>
<svg class="tw" viewBox="0 0 34 22" width="34" height="22"><g fill="#000"><ellipse cx="16" cy="10" rx="14.5" ry="7.2"/><circle cx="4.5" cy="10" r="4.2"/><circle cx="19.5" cy="5.2" r="5"/><circle cx="12" cy="6" r="4"/><circle cx="29.5" cy="6.8" r="3.4"/><circle cx="27" cy="10" r="5"/><circle cx="12" cy="16.2" r="4.6"/><circle cx="21" cy="15" r="4"/></g><text x="16" y="13" font-family="Liberation Sans, sans-serif" font-weight="700" font-size="8.2" fill="#fff" text-anchor="middle" textLength="23" lengthAdjust="spacingAndGlyphs">twinkl</text></svg>
</div>
</div>

<svg class="eco" style="left:940px;top:470px" width="320" height="160" viewBox="940 470 320 160">
<rect x="966.5" y="531.5" width="300" height="64" rx="2.5" fill="#77ad45" stroke="#4a9a1c" stroke-width="1.2"/>
<path d="M1184.7 481.8 L1150.6 547.2 A38.5 38.5 0 1 0 1218.8 547.2 Z" fill="#8cc449" stroke="#6bab2b" stroke-width="1.2" stroke-linejoin="round"/>
<rect x="1183.8" y="533" width="4.4" height="70" fill="#b9dc90"/>
<rect x="1183.8" y="603" width="4.4" height="12" fill="#8cc443"/>
<text x="985" y="573.5" font-family="Liberation Sans, sans-serif" font-size="34" fill="#fff" stroke="#3f9c10" stroke-width="3.2" stroke-linejoin="round" style="paint-order:stroke" textLength="142" lengthAdjust="spacingAndGlyphs">ink saving</text>
<text x="1159" y="571.5" font-family="Liberation Sans, sans-serif" font-size="30.5" font-weight="700" fill="#fff" stroke="#5aa61c" stroke-width="3" stroke-linejoin="round" style="paint-order:stroke" textLength="52.5" lengthAdjust="spacingAndGlyphs">Eco</text>
</svg>

</body></html>
